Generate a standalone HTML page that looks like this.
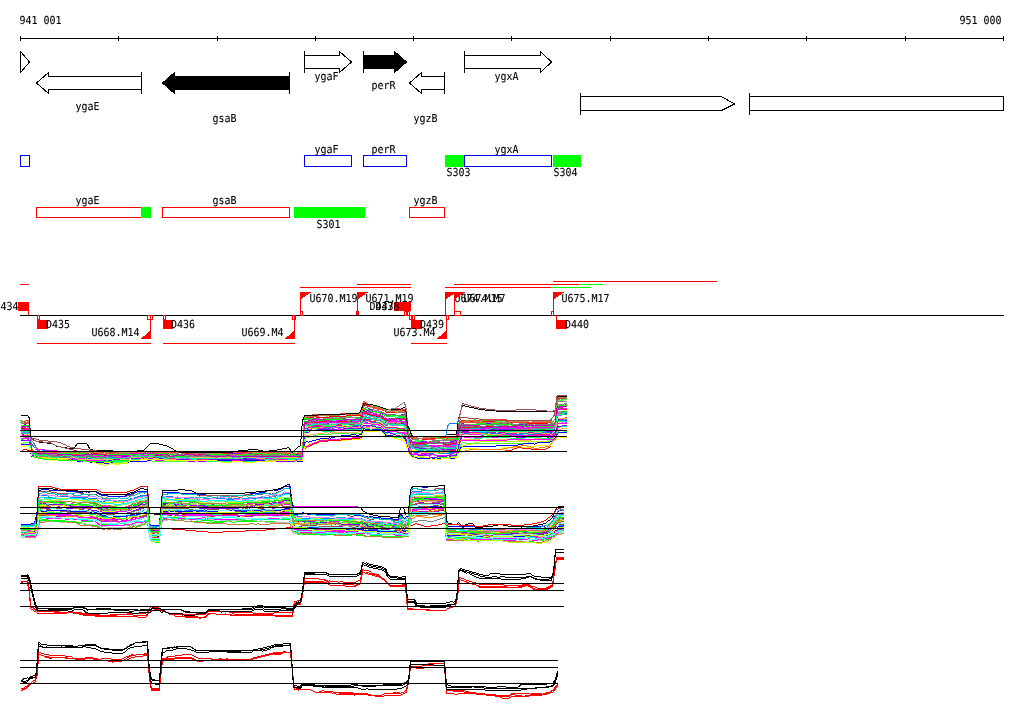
<!DOCTYPE html>
<html lang="en"><head><meta charset="utf-8"><title>Genome region 941 001 - 951 000</title>
<style>html,body{margin:0;padding:0;background:#fff;overflow:hidden}svg{display:block;will-change:transform}text{font-family:"DejaVu Sans Mono","Liberation Mono",monospace;font-size:11px;white-space:pre;stroke:#000;stroke-width:.1px}</style></head><body>
<svg width="1024" height="714" viewBox="0 0 1024 714" shape-rendering="crispEdges" text-rendering="geometricPrecision">
<rect width="1024" height="714" fill="#fff"/>
<g id="axis">
<rect x="20" y="38" width="984" height="1" fill="#000000"/>
<rect x="20" y="36" width="1" height="5" fill="#000000"/>
<rect x="118" y="36" width="1" height="5" fill="#000000"/>
<rect x="217" y="36" width="1" height="5" fill="#000000"/>
<rect x="315" y="36" width="1" height="5" fill="#000000"/>
<rect x="413" y="36" width="1" height="5" fill="#000000"/>
<rect x="511" y="36" width="1" height="5" fill="#000000"/>
<rect x="610" y="36" width="1" height="5" fill="#000000"/>
<rect x="708" y="36" width="1" height="5" fill="#000000"/>
<rect x="806" y="36" width="1" height="5" fill="#000000"/>
<rect x="905" y="36" width="1" height="5" fill="#000000"/>
<rect x="1003" y="36" width="1" height="5" fill="#000000"/>
<text transform="translate(19.40,24.00) scale(0.906,1)" fill="#000000">941 001</text>
<text transform="translate(959.40,24.00) scale(0.906,1)" fill="#000000">951 000</text>
</g>
<g id="genes">
<polygon points="20.5,51.5 29.5,62 20.5,72.5" fill="#fff" stroke="#000000"/>
<polygon points="141.5,76.5 48.5,76.5 48.5,72.5 36.5,83.0 48.5,93.5 48.5,89.5 141.5,89.5" fill="#fff" stroke="#000000"/>
<rect x="141" y="72" width="1" height="22" fill="#000000"/>
<polygon points="289.5,76.5 174.5,76.5 174.5,72.5 162.5,83.0 174.5,93.5 174.5,89.5 289.5,89.5" fill="#000000" stroke="#000000"/>
<rect x="289" y="72" width="1" height="22" fill="#000000"/>
<polygon points="304.5,55.5 339.5,55.5 339.5,51.5 351.5,62.0 339.5,72.5 339.5,68.5 304.5,68.5" fill="#fff" stroke="#000000"/>
<rect x="304" y="51" width="1" height="22" fill="#000000"/>
<polygon points="363.5,55.5 394.5,55.5 394.5,51.5 406.5,62.0 394.5,72.5 394.5,68.5 363.5,68.5" fill="#000000" stroke="#000000"/>
<rect x="363" y="51" width="1" height="22" fill="#000000"/>
<polygon points="444.5,76.5 421.5,76.5 421.5,72.5 409.5,83.0 421.5,93.5 421.5,89.5 444.5,89.5" fill="#fff" stroke="#000000"/>
<rect x="444" y="72" width="1" height="22" fill="#000000"/>
<polygon points="464.5,55.5 540.5,55.5 540.5,51.5 551.5,62.0 540.5,72.5 540.5,68.5 464.5,68.5" fill="#fff" stroke="#000000"/>
<rect x="464" y="51" width="1" height="22" fill="#000000"/>
<polygon points="580.5,96.5 721.5,96.5 734.5,104 721.5,110.5 580.5,110.5" fill="#fff" stroke="#000000"/>
<rect x="580" y="93" width="1" height="22" fill="#000000"/>
<rect x="749.5" y="96.5" width="254" height="14" fill="#fff" stroke="#000000"/>
<rect x="749" y="93" width="1" height="22" fill="#000000"/>
<text transform="translate(75.40,110.00) scale(0.906,1)" fill="#000000">ygaE</text>
<text transform="translate(212.40,122.00) scale(0.906,1)" fill="#000000">gsaB</text>
<text transform="translate(314.40,80.00) scale(0.906,1)" fill="#000000">ygaF</text>
<text transform="translate(371.40,89.00) scale(0.906,1)" fill="#000000">perR</text>
<text transform="translate(413.40,122.00) scale(0.906,1)" fill="#000000">ygzB</text>
<text transform="translate(494.40,80.00) scale(0.906,1)" fill="#000000">ygxA</text>
</g>
<g id="boxes">
<rect x="20.5" y="155.5" width="9" height="11" fill="none" stroke="#0000ff"/>
<rect x="304.5" y="155.5" width="47" height="11" fill="none" stroke="#0000ff"/>
<rect x="363.5" y="155.5" width="43" height="11" fill="none" stroke="#0000ff"/>
<rect x="445" y="155" width="19" height="12" fill="#00ff00"/>
<rect x="464.5" y="155.5" width="87" height="11" fill="none" stroke="#0000ff"/>
<rect x="553" y="155" width="28" height="12" fill="#00ff00"/>
<text transform="translate(314.40,153.00) scale(0.906,1)" fill="#000000">ygaF</text>
<text transform="translate(371.40,153.00) scale(0.906,1)" fill="#000000">perR</text>
<text transform="translate(494.40,153.00) scale(0.906,1)" fill="#000000">ygxA</text>
<text transform="translate(446.40,176.00) scale(0.906,1)" fill="#000000">S303</text>
<text transform="translate(553.40,176.00) scale(0.906,1)" fill="#000000">S304</text>
<rect x="36.5" y="207.5" width="105" height="10" fill="none" stroke="#ff0000"/>
<rect x="141" y="207" width="10" height="11" fill="#00ff00"/>
<rect x="162.5" y="207.5" width="127" height="10" fill="none" stroke="#ff0000"/>
<rect x="294" y="207" width="71" height="11" fill="#00ff00"/>
<rect x="409.5" y="207.5" width="35" height="10" fill="none" stroke="#ff0000"/>
<text transform="translate(75.40,204.00) scale(0.906,1)" fill="#000000">ygaE</text>
<text transform="translate(212.40,204.00) scale(0.906,1)" fill="#000000">gsaB</text>
<text transform="translate(413.40,204.00) scale(0.906,1)" fill="#000000">ygzB</text>
<text transform="translate(316.40,228.00) scale(0.906,1)" fill="#000000">S301</text>
</g>
<g id="transcripts">
<rect x="20" y="315" width="984" height="1" fill="#000000"/>
<rect x="20" y="284" width="9" height="1" fill="#ff0000"/>
<rect x="300" y="287" width="111" height="1" fill="#ff0000"/>
<rect x="357" y="284" width="54" height="1" fill="#ff0000"/>
<rect x="445" y="287" width="106" height="1" fill="#ff0000"/>
<rect x="551" y="287" width="40" height="1" fill="#00ff00"/>
<rect x="454" y="284" width="125" height="1" fill="#ff0000"/>
<rect x="579" y="284" width="25" height="1" fill="#00ff00"/>
<rect x="553" y="281" width="164" height="1" fill="#ff0000"/>
<rect x="37" y="343" width="114" height="1" fill="#ff0000"/>
<rect x="163" y="343" width="132" height="1" fill="#ff0000"/>
<rect x="411" y="343" width="36" height="1" fill="#ff0000"/>
<rect x="18" y="302" width="11" height="9" fill="#ff0000"/>
<rect x="28" y="311" width="1" height="4" fill="#ff0000"/>
<text transform="translate(-5.60,310.00) scale(0.906,1)" fill="#000000">D434</text>
<polygon points="300,292 311.5,292 300,299.5" fill="#ff0000"/>
<rect x="300" y="292" width="1" height="23" fill="#ff0000"/>
<rect x="300.5" y="311.5" width="2" height="4" fill="none" stroke="#ff0000"/>
<text transform="translate(309.40,302.00) scale(0.906,1)" fill="#000000">U670.M19</text>
<polygon points="357,292 368.5,292 357,299.5" fill="#ff0000"/>
<rect x="357" y="292" width="1" height="23" fill="#ff0000"/>
<rect x="356" y="311" width="3" height="4" fill="#ff0000"/>
<text transform="translate(365.40,302.00) scale(0.906,1)" fill="#000000">U671.M19</text>
<rect x="394" y="302" width="17" height="9" fill="#ff0000"/>
<text transform="translate(369.40,310.00) scale(0.906,1)" fill="#000000">D437</text>
<text transform="translate(375.40,310.00) scale(0.906,1)" fill="#000000">D438</text>
<rect x="404.5" y="311.5" width="2" height="4" fill="none" stroke="#ff0000"/>
<rect x="407.5" y="311.5" width="2" height="4" fill="none" stroke="#ff0000"/>
<text transform="translate(454.40,302.00) scale(0.906,1)" fill="#000000">U674.M15</text>
<polygon points="445,292 456.5,292 445,299.5" fill="#ff0000"/>
<rect x="445" y="292" width="1" height="23" fill="#ff0000"/>
<polygon points="454,292 465.5,292 454,299.5" fill="#ff0000"/>
<rect x="454" y="292" width="1" height="23" fill="#ff0000"/>
<text transform="translate(463.40,302.00) scale(0.906,1)" fill="#000000">U674.M7</text>
<rect x="454.5" y="311.5" width="6" height="4" fill="none" stroke="#ff0000"/>
<polygon points="553,292 564.5,292 553,299.5" fill="#ff0000"/>
<rect x="553" y="292" width="1" height="23" fill="#ff0000"/>
<rect x="551.5" y="311.5" width="2" height="4" fill="none" stroke="#ff0000"/>
<text transform="translate(561.40,302.00) scale(0.906,1)" fill="#000000">U675.M17</text>
<rect x="37.5" y="315.5" width="2" height="4" fill="none" stroke="#ff0000"/>
<rect x="37" y="320" width="11" height="9" fill="#ff0000"/>
<text transform="translate(45.90,328.00) scale(0.906,1)" fill="#000000">D435</text>
<polygon points="151,330 151,339 140.5,339" fill="#ff0000"/>
<rect x="150" y="315" width="1" height="24" fill="#ff0000"/>
<rect x="147.5" y="315.5" width="5" height="4" fill="none" stroke="#ff0000"/>
<text transform="translate(91.40,336.00) scale(0.906,1)" fill="#000000">U668.M14</text>
<rect x="163.5" y="315.5" width="2" height="4" fill="none" stroke="#ff0000"/>
<rect x="163" y="320" width="10" height="9" fill="#ff0000"/>
<text transform="translate(170.90,328.00) scale(0.906,1)" fill="#000000">D436</text>
<polygon points="295,330 295,339 284.5,339" fill="#ff0000"/>
<rect x="294" y="315" width="1" height="24" fill="#ff0000"/>
<rect x="292.5" y="315.5" width="3" height="4" fill="none" stroke="#ff0000"/>
<text transform="translate(241.40,336.00) scale(0.906,1)" fill="#000000">U669.M4</text>
<rect x="409.5" y="315.5" width="2" height="4" fill="none" stroke="#ff0000"/>
<rect x="412.5" y="315.5" width="2" height="4" fill="none" stroke="#ff0000"/>
<rect x="411" y="320" width="11" height="9" fill="#ff0000"/>
<text transform="translate(419.90,328.00) scale(0.906,1)" fill="#000000">D439</text>
<polygon points="447,330 447,339 436.5,339" fill="#ff0000"/>
<rect x="446" y="315" width="1" height="24" fill="#ff0000"/>
<rect x="446.5" y="315.5" width="2" height="4" fill="none" stroke="#ff0000"/>
<text transform="translate(393.40,336.00) scale(0.906,1)" fill="#000000">U673.M4</text>
<rect x="556" y="315" width="1" height="6" fill="#ff0000"/>
<rect x="556" y="320" width="11" height="9" fill="#ff0000"/>
<text transform="translate(564.90,328.00) scale(0.906,1)" fill="#000000">D440</text>
</g>
<g id="plot1" fill="none" stroke-width="1">
<path d="M20.5 420.5l1 1l1 1h7l1 14l1 14h1l1 1l1 1h10l1 1h13l1 -1h12l1 1h8l1 1h6l1 -1h1l1 1h18l1 -1h1l1 -1h8l1 -1h18l1 1h14l1 1h4l1 1h25l1 -1h9l1 1h13l1 -1h4l1 -1h8l1 1h1l1 1h10l1 -1h8l1 -1h7l1 1l1 1h3l1 -1h1l1 -1h11l1 -1h13l1 1h1l1 1h5l1 -1l1 1h7l1 -18l1 -19h9l1 -1h10l1 -1l1 1h13l1 1h10l1 -1h1l1 -1h7l1 -4l1 -4l1 -4l1 1h1l1 2h1l1 1l1 -1h1l1 1l1 1l1 -1h4l1 1h2l1 1h2l1 1h4l1 1h7l1 1h5l1 -1h1l1 1l1 2l1 10l1 10l1 2l1 1l1 1l1 1h21l1 -1h4l1 -1h5l1 1h3l1 -1h7l1 -6l1 -7l1 -1h1l1 -2h12l1 -1l1 1h11l1 1h16l1 -1h34l1 1h6l1 1h6l1 -2l1 -1l1 -1l1 -17l1 -3h3l1 1h5" stroke="#00ff00"/>
<path d="M20.5 435.5h4l1 -1h4l1 9l1 9l1 1h1l1 1h4l1 2h1l1 1h6l1 -1h4l1 -1h2l1 1l1 1h4l1 1h9l1 -1h7l1 -1h4l1 1h14l1 1h7l1 1h4l1 -1l1 1h5l1 -1h8l1 -1h2l1 1h26l1 1h10l1 -1h2l1 1h15l1 -1h10l1 -1h7l1 1h6l1 -1h14l1 1h1l1 1h5l1 -1h6l1 1h6l1 -1h17l1 -1h18l1 1h10l1 -1h2l1 -15l1 -15l1 -1h6l1 1h3l1 -1h3l1 -1h5l1 1h1l1 -1h2l1 1h10l1 -1h2l1 -1h3l1 1h4l1 -1h6l1 -1l1 -2l1 -2h3l1 1h1l1 1h6l1 1h4l1 1l1 1l1 1l1 1l1 1h8l1 1h8l1 -1h1l1 2l1 3l1 7l1 6l1 2l1 1l1 1l1 1h10l1 1h8l1 1h20l1 -1h3l1 -5l1 -5l1 -3l1 -2l1 -2h9l1 -1h37l1 1h14l1 -1h1l1 1h1l1 -1h10l1 1h13l1 -1l1 -1l1 -1l1 -8l1 -4h9" stroke="#c0ff00"/>
<path d="M20.5 429.5h1l1 -1h2l1 1h4l1 12l1 11h1l1 1l1 1h7l1 1h15l1 1h2l1 -1h10l1 1h5l1 -1h20l1 1h6l1 1h2l1 -1l1 -1h19l1 -1h26l1 1l1 1h2l1 -1h10l1 1h23l1 1h32l1 -1h7l1 1h4l1 -1h2l1 -1h5l1 1h2l1 1h12l1 -1h1l1 1l1 -1h1l1 -1h4l1 1h13l1 1h11l1 -17l1 -16h5l1 -1h8l1 -1h5l1 -1h10l1 -1h9l1 1h7l1 -1h6l1 -2l1 -3l1 -3l1 1l1 1h3l1 1h2l1 1h1l1 1h4l1 1h2l1 1l1 1l1 1h1l1 1h6l1 -1h5l1 -1h2l1 1h2l1 1l1 2l1 8l1 7l1 2l1 1l1 1l1 1h14l1 1h24l1 -1l1 1h3l1 -5l1 -6l1 -2l1 -2l1 -3l1 1h4l1 -1h21l1 1h16l1 1h7l1 -1h1l1 1h36l1 -1l1 -1l1 -1l1 -11l1 -4h9" stroke="#00c000"/>
<path d="M20.5 426.5h6l1 1h1l1 1l1 12l1 12l1 1h1l1 1h4l1 1h20l1 1h21l1 -1h2l1 1h1l1 -1h13l1 -1l1 1h3l1 -1h11l1 1h5l1 -1h3l1 -1h19l1 1h42l1 1h2l1 -1h7l1 1h4l1 1h18l1 -1h1l1 -1h16l1 1h6l1 1h30l1 -1h19l1 -17l1 -17h16l1 -1h39l1 -3l1 -4l1 -3l1 1h3l1 1h1l1 -1l1 1h2l1 -1l1 1h3l1 1l1 1l1 -1l1 1h1l1 1h1l1 1h8l1 1h7l1 -1h1l1 2l1 1l1 9l1 8l1 2l1 1l1 1l1 1h10l1 1h29l1 -1h3l1 -5l1 -6l1 -3l1 -1l1 -1h1l1 -1h21l1 1l1 1h1l1 -1h5l1 -1h1l1 1h11l1 1h3l1 -1l1 2h37l1 -1h1l1 -1l1 -1l1 -1l1 -14l1 -3h6l1 -1h2" stroke="#00ff80"/>
<path d="M20.5 428.5h9l1 12l1 11l1 1l1 1h1l1 1h8l1 -1h5l1 1h21l1 1h1l1 1h24l1 -1h2l1 1h50l1 -1l1 1h8l1 -1h6l1 1h28l1 -1h16l1 -1h6l1 1l1 -1h9l1 1h2l1 -1h4l1 1l1 -1h1l1 1h2l1 1h21l1 -1h1l1 1h30l1 -17l1 -16h1l1 -1h24l1 -1h4l1 -1h6l1 -1l1 1l1 -1h13l1 1h1l1 -2l1 -3l1 -3l1 1h3l1 1h3l1 1l1 -1h1l1 1h1l1 1h3l1 1l1 1h1l1 1l1 1h12l1 -1h2l1 1l1 -1h1l1 -1l1 2l1 2l1 9l1 8l1 1l1 1l1 1l1 1h5l1 1h5l1 1h18l1 -1h13l1 -5l1 -5l1 -3l1 -2l1 -1h2l1 -1h9l1 -1h9l1 1h13l1 1h33l1 -1h3l1 1h9l1 -1h2l1 -1h3l1 -1l1 -1l1 -1l1 -12l1 -4h5l1 1h3" stroke="#ff00ff"/>
<path d="M20.5 422.5h7l1 1h1l1 13l1 14l1 -1l1 1l1 1h3l1 1h2l1 1h1l1 -1h6l1 1h1l1 -1h5l1 1h1l1 -1h21l1 1h8l1 1h71l1 -1l1 -1h4l1 1h3l1 1h9l1 1h2l1 -1h4l1 -1h1l1 1h73l1 -1h4l1 1h21l1 -1h8l1 -18l1 -19h14l1 1h6l1 -1h1l1 1h9l1 -1h13l1 -1h4l1 -1h3l1 -3l1 -4l1 -4l1 1h2l1 1l1 1h1l1 1h2l1 1h6l1 1h2l1 1h2l1 1h13l1 -1h4l1 2l1 1l1 10l1 11l1 1l1 1l1 1l1 2h2l1 1h8l1 -1h9l1 -1h22l1 -7l1 -6l1 -2l1 -1l1 -2l1 1h5l1 1h1l1 -1h8l1 1l1 -1h3l1 1h2l1 -1h6l1 1h1l1 -1h22l1 1h1l1 -1h2l1 1h7l1 -1h20l1 -1l1 -1l1 -1l1 -16l1 -2h5l1 -1h3" stroke="#40ff40"/>
<path d="M20.5 431.5l1 -1h3l1 1h3l1 1l1 10l1 10h1l1 1h4l1 1h14l1 1h17l1 1h17l1 1l1 -1h37l1 -1h6l1 1h1l1 1l1 -1h4l1 -1l1 1h3l1 -1h6l1 1h5l1 1h2l1 1h9l1 -1h2l1 -1h7l1 1h3l1 1h1l1 -1h7l1 -1h1l1 1h18l1 1h31l1 -1h1l1 -1h26l1 1h12l1 -1h8l1 -16l1 -16h1l1 -1h13l1 -1h2l1 1h15l1 1h2l1 -1h1l1 -1h12l1 -1h3l1 -1l1 -3l1 -2h4l1 1h4l1 1h3l1 1h1l1 1l1 -1l1 1h1l1 1l1 1l1 1l1 1h4l1 1h5l1 -1h1l1 1h5l1 2l1 2l1 7l1 7l1 1l1 2l1 1l1 1h5l1 1l1 -1h5l1 1h4l1 -1h1l1 1l1 -1h9l1 1l1 1h4l1 -1l1 -1l1 1h5l1 -6l1 -5l1 -3l1 -2l1 -2h10l1 1h22l1 -1h2l1 1h11l1 -1l1 1h6l1 -1h19l1 1h7l1 -1h1l1 -1h3l1 1l1 -1l1 -1l1 -1l1 -10l1 -4h9" stroke="#00ffff"/>
<path d="M20.5 422.5l1 1h8l1 14l1 14h1l1 1l1 1l1 1h22l1 1h10l1 -1h13l1 -1h5l1 -1h6l1 1h5l1 -1h45l1 1h18l1 1h2l1 -1h5l1 1h17l1 -1h23l1 1h2l1 -1h3l1 -1h18l1 1h12l1 -1h17l1 1h9l1 -1h8l1 1h5l1 1h2l1 -18l1 -18h15l1 -1h12l1 -2h2l1 1h2l1 1h21l1 -4l1 -3l1 -4h1l1 1h2l1 1h1l1 1h3l1 1h3l1 1h2l1 1h2l1 1h1l1 1h9l1 -1l1 -1h7l1 2l1 1l1 10l1 9l1 1l1 2l1 1l1 1h6l1 -1h2l1 1h4l1 -1h1l1 1h2l1 1h21l1 -1h2l1 -6l1 -6l1 -2l1 -1l1 -2h14l1 -1h3l1 1h1l1 1h3l1 -1h5l1 -1h3l1 1l1 1h8l1 -1l1 1h5l1 -1h6l1 1l1 -1h1l1 1l1 1h9l1 -1h2l1 1h12l1 -1l1 1h1l1 -1l1 -1l1 -1l1 -16l1 -3l1 -1h8" stroke="#808080"/>
<path d="M20.5 425.5h1l1 1l1 -1l1 -1h1l1 1h1l1 1h1l1 12l1 12l1 1l1 1l1 1h8l1 1h38l1 1h12l1 -1h22l1 1h13l1 -1h8l1 1h29l1 1h7l1 -1h1l1 1h24l1 -1l1 -1h14l1 -1h3l1 1h2l1 -1h45l1 1h2l1 -1l1 1h3l1 -1h8l1 1h10l1 -17l1 -18h9l1 1h10l1 -1h35l1 -3l1 -5l1 -3h2l1 1h1l1 -1l1 1h2l1 2h3l1 1h3l1 1h3l1 1h2l1 1h5l1 -1l1 1h6l1 -1h3l1 2l1 3l1 9l1 8l1 2l1 1l1 2l1 1h8l1 -1h5l1 1h5l1 1h13l1 -1h2l1 -1h3l1 -1h2l1 -6l1 -6l1 -2l1 -1l1 -2h2l1 1h12l1 -1h14l1 1h5l1 -1h9l1 1h2l1 1h5l1 -1h12l1 1h4l1 1h17l1 -1l1 -1l1 -1l1 -15l1 -3h7l1 -1h1" stroke="#8000ff"/>
<path d="M20.5 440.5h9l1 7l1 7h1l1 1h4l1 1h8l1 1h19l1 2h5l1 -1h6l1 1h5l1 1h1l1 1h32l1 -1h7l1 -1l1 -1l1 1l1 1h3l1 -1h14l1 -1h6l1 1l1 1l1 1h5l1 -1h1l1 1h64l1 -1h5l1 1h16l1 -1h25l1 1h8l1 -1l1 1l1 -1h1l1 1h7l1 -13l1 -13h5l1 -1h5l1 -1h7l1 -1h2l1 1h1l1 -1h28l1 -1h3l1 -2l1 -2h9l1 1h3l1 1h3l1 1l1 1l1 1l1 1l1 2h4l1 -1l1 1h2l1 1h4l1 -1h2l1 -1l1 1h1l1 2l1 4l1 4l1 5l1 3l1 1l1 1l1 1h5l1 1h32l1 -1h3l1 -1h1l1 -4l1 -3l1 -4l1 -3l1 -2h18l1 1h5l1 -1h31l1 1h13l1 -1h1l1 -1h18l1 -1l1 -1l1 -1l1 -4l1 -3l1 1h2l1 -1h5" stroke="#ffb060"/>
<path d="M20.5 433.5h9l1 10l1 9h1l1 2h1l1 1h8l1 1h2l1 -1h3l1 1h4l1 1h13l1 1h14l1 -1h8l1 1h2l1 -1l1 1h16l1 -1h1l1 1h21l1 -1h1l1 1h4l1 -1h4l1 -1h11l1 1h11l1 1l1 1h11l1 -1h59l1 -1h12l1 -1l1 1h1l1 1h36l1 -1l1 1l1 -15l1 -16h4l1 -1l1 1l1 -1l1 -1h5l1 -1h10l1 -1h3l1 1h3l1 -1h6l1 1h16l1 -2l1 -2l1 -2h5l1 1h3l1 -1h1l1 1l1 1h5l1 1l1 1l1 1l1 1h11l1 1h7l1 2l1 2l1 7l1 7l1 1l1 1l1 1l1 2h2l1 1h2l1 1h5l1 -1h1l1 1h30l1 -5l1 -6l1 -3l1 -2l1 -2h24l1 -1h5l1 -1h4l1 1h2l1 1h30l1 -1h2l1 1h18l1 -1l1 -1l1 -1l1 -9l1 -4l1 -1h3l1 -1h4" stroke="#00c0c0"/>
<path d="M20.5 436.5l1 -1h8l1 9l1 9h1l1 1h3l1 1h11l1 1h6l1 1l1 -1h14l1 1h9l1 1l1 -1l1 1h5l1 1h7l1 1l1 -1h2l1 1h4l1 -1h19l1 -1l1 -1h4l1 1h5l1 -1h31l1 2h12l1 -1h21l1 1h7l1 1h25l1 -1h18l1 -1h4l1 1h27l1 -1h9l1 1l1 -14l1 -15h2l1 -2h8l1 1l1 -1h5l1 -1h8l1 -1h4l1 1h8l1 -1h2l1 -1h11l1 -1l1 -2l1 -2l1 1h7l1 2h9l1 1l1 1l1 2l1 1h10l1 1l1 1h3l1 -1h3l1 2l1 4l1 6l1 6l1 1l1 1l1 1l1 2h2l1 -1h17l1 1h2l1 -1h3l1 1h7l1 -1h8l1 -5l1 -4l1 -4l1 -2l1 -2l1 -1h12l1 1h11l1 1h18l1 -1l1 1h8l1 -1h8l1 1h6l1 -1h4l1 -1h3l1 1h1l1 -1h9l1 -1l1 -1l1 -1l1 -7l1 -3l1 -1h1l1 1h1l1 1h4" stroke="#00ffff"/>
<path d="M20.5 421.5h3l1 1h1l1 1l1 -1h2l1 14l1 13l1 1l1 1l1 1h6l1 1h4l1 1l1 -1h3l1 1h39l1 -1h11l1 1h30l1 -1l1 -2h13l1 1h4l1 -1l1 1h25l1 1h11l1 1h30l1 -1h5l1 1h2l1 -1l1 -1h36l1 1h6l1 -1h7l1 -1h16l1 -18l1 -18h2l1 1h1l1 1h4l1 -1h1l1 1h12l1 -1h16l1 -1h4l1 -1l1 1h8l1 -4l1 -4l1 -4l1 2h2l1 1h4l1 1h3l1 1h2l1 1h2l1 1h2l1 1l1 1h11l1 -1h1l1 -1l1 -1l1 1h2l1 2l1 1l1 10l1 10l1 1h1l1 2l1 2h9l1 1h7l1 -1h8l1 -1h17l1 -7l1 -6l1 -1l1 -2l1 -1h3l1 1h10l1 1h5l1 -1h11l1 -1h11l1 1h1l1 1h17l1 1h21l1 -1h2l1 -1h1l1 -1l1 -1l1 -1l1 -18l1 -3h9" stroke="#ff0000"/>
<path d="M20.5 436.5h2l1 -1h6l1 9l1 9l1 1h1l1 1h3l1 1h13l1 1l1 1h11l1 -1h7l1 -1h2l1 1h15l1 1l1 -1h36l1 1h4l1 1h13l1 -1h1l1 1h21l1 -1h9l1 1h11l1 -1h2l1 -1h21l1 1h4l1 1h21l1 -1h8l1 -1h11l1 1h6l1 1h3l1 -1h17l1 -1h5l1 -15l1 -15h3l1 1h4l1 -2h1l1 1h2l1 1h12l1 -1h1l1 -1h3l1 -1l1 1h6l1 1h15l1 -1l1 -2l1 -2h4l1 1h8l1 1h3l1 1l1 1l1 1l1 1l1 1h5l1 1h2l1 -1h2l1 -1h7l1 3l1 2l1 6l1 6l1 1l1 2l1 2l1 1h15l1 2h5l1 -1h9l1 1l1 -1h1l1 1h3l1 -1h2l1 -1l1 1l1 -1l1 -5l1 -4l1 -4l1 -2l1 -3h7l1 1l1 -1h9l1 1l1 -1h6l1 1h34l1 -1h2l1 -1l1 1h19l1 1h5l1 -1l1 -1l1 -2l1 -7l1 -4h3l1 -1h5" stroke="#0080ff"/>
<path d="M20.5 430.5h5l1 -1h1l1 1h1l1 11l1 11l1 1h1l1 1l1 1h4l1 1h13l1 -1h7l1 2h3l1 -1h10l1 -1l1 1h18l1 1h3l1 -1h27l1 1h1l1 -1h2l1 1h8l1 -1h7l1 -1l1 1h3l1 1h1l1 -1h5l1 -1h57l1 1h2l1 -1h13l1 1h5l1 -1h18l1 1h2l1 1l1 -1h3l1 -1h2l1 1h21l1 1h5l1 -16l1 -17h14l1 -1h16l1 -1h5l1 1h2l1 -1h5l1 -1h3l1 -1h4l1 1l1 -2l1 -2l1 -3h1l1 -1l1 1h3l1 1h3l1 1h1l1 1h1l1 1h2l1 1l1 1l1 1h1l1 1h3l1 1h6l1 -1h6l1 -1h1l1 2l1 2l1 7l1 8l1 1l1 1l1 2l1 1h2l1 1h10l1 1h2l1 -1h7l1 1h14l1 -1h1l1 1h2l1 -6l1 -5l1 -3l1 -2l1 -2h2l1 -1l1 1h10l1 -1h2l1 1h2l1 -1h9l1 1h2l1 1h6l1 -1h11l1 1h34l1 -1h3l1 -1l1 -1l1 -1l1 -11l1 -4h3l1 1h5" stroke="#c0c0c0"/>
<path d="M20.5 430.5h9l1 11l1 11l1 1h1l1 1h5l1 1h10l1 1h9l1 -1h1l1 1h11l1 -1h14l1 1h20l1 1h1l1 -1h2l1 -1h6l1 1h11l1 1h1l1 -1h6l1 -1h4l1 -1l1 1h1l1 1h3l1 1h2l1 -1h9l1 1l1 -1l1 -1h11l1 1h4l1 -1h1l1 1h2l1 1h46l1 -1h4l1 1h6l1 -1l1 1h2l1 -1h5l1 -1h16l1 1h12l1 1h10l1 -16l1 -17l1 -1h12l1 -1h13l1 -1h3l1 1h4l1 -1h10l1 -1h8l1 -2l1 -2l1 -3h3l1 1h3l1 2h4l1 1h4l1 1l1 1h1l1 1l1 1h8l1 1h2l1 -1h7l1 2l1 2l1 7l1 8l1 1l1 1l1 3l1 1h2l1 -1h13l1 1h9l1 -1h17l1 -5l1 -5l1 -3l1 -2l1 -2h29l1 -1h2l1 1h2l1 1h12l1 -1h4l1 1h25l1 1h6l1 -1h4l1 -1l1 -1l1 -1l1 -10l1 -4h9" stroke="#00c0c0"/>
<path d="M20.5 443.5h2l1 -1h6l1 6l1 6l1 1h3l1 1h1l1 1h2l1 1h8l1 1h10l1 1h19l1 1h8l1 -1l1 1h2l1 -1l1 1h1l1 1l1 -1l1 1h23l1 -1h3l1 1l1 -1h1l1 -1h4l1 -1h13l1 1h2l1 1h33l1 -1h16l1 1h1l1 -1h3l1 1h66l1 -1h1l1 -1h24l1 -10l1 -11h1l1 -1h2l1 -1h3l1 -1h4l1 -1h12l1 -1h17l1 1h1l1 -1h10l1 -2l1 -3h6l1 1h4l1 -1h5l1 1l1 1l1 2l1 2l1 1h5l1 1l1 1h8l1 1h3l1 2l1 3l1 4l1 5l1 1l1 1l1 2l1 1h19l1 1h1l1 -1h15l1 -1h6l1 -3l1 -3l1 -3l1 -2l1 -2l1 -1h2l1 1h62l1 -1l1 -1h3l1 1l1 -1h15l1 -1h2l1 -1l1 -1l1 -1l1 -3l1 -3h1l1 1h4l1 -1h2" stroke="#40ff40"/>
<path d="M20.5 436.5h5l1 1h1l1 1h1l1 8l1 9h1l1 1h3l1 1h10l1 1h15l1 -1h6l1 1h2l1 1h7l1 -1l1 -1l1 1h1l1 -1h9l1 1h14l1 1l1 1h14l1 -1l1 -1l1 -1h40l1 1h19l1 1h3l1 -1h6l1 1h16l1 1h4l1 -1h11l1 -1h29l1 1h7l1 -1h7l1 1l1 1h3l1 -1h10l1 1l1 -1h3l1 -1l1 -15l1 -15h4l1 -1h9l1 -1h15l1 1l1 -1h14l1 -1h10l1 -1l1 -3h6l1 1h9l1 1l1 1l1 2l1 1l1 1l1 1h19l1 3l1 2l1 6l1 6l1 1l1 1l1 2l1 1h18l1 1h6l1 1h8l1 -1h4l1 -1h4l1 -5l1 -5l1 -3l1 -3l1 -2l1 1l1 -1h20l1 1h2l1 1h45l1 -1h10l1 -1h6l1 1h1l1 -1l1 -1l1 -2l1 -6l1 -3h3l1 -1h5" stroke="#00ff00"/>
<path d="M20.5 432.5h9l1 10l1 10h1l1 1h2l1 1h12l1 1h26l1 1h1l1 2h6l1 -1h11l1 -1h17l1 1h2l1 -1h11l1 -1h7l1 1h5l1 -1h11l1 1h6l1 1h6l1 1h2l1 -1h3l1 1h13l1 -1h54l1 1h14l1 -1l1 1h18l1 -1h1l1 1h15l1 -1h3l1 -17l1 -16h11l1 -1h6l1 1h21l1 -1h15l1 -1l1 -3l1 -2l1 -1l1 1h2l1 1h4l1 1l1 1h5l1 1h1l1 1l1 1l1 1l1 1h2l1 -1l1 -1h6l1 1h2l1 1h3l1 -1h1l1 2l1 2l1 7l1 7l1 1l1 1l1 2l1 1h10l1 1h6l1 1l1 -1h4l1 1h5l1 1h4l1 -1h6l1 -1l1 -1h1l1 -5l1 -5l1 -4l1 -2l1 -2h34l1 1h30l1 1h19l1 -1h5l1 -1l1 -1l1 -1l1 -10l1 -3h2l1 -1h6" stroke="#808080"/>
<path d="M20.5 432.5h2l1 -1h6l1 10l1 11h1l1 1h3l1 1h12l1 1h24l1 1h6l1 1h3l1 1h29l1 -1l1 -1h11l1 -1h2l1 1h1l1 1h7l1 -1h3l1 -1h12l1 1h11l1 1h22l1 1h25l1 -1h13l1 1h12l1 -1h1l1 -1h33l1 1l1 1h12l1 -1h2l1 -1h2l1 -16l1 -16h7l1 -1h16l1 1h6l1 -1h3l1 1h20l1 -2l1 -2l1 -3h1l1 1h4l1 1h10l1 1l1 1h1l1 1h1l1 1h18l1 3l1 2l1 7l1 7l1 1l1 1l1 1l1 2h6l1 1h6l1 1l1 -1h4l1 1h12l1 -1l1 1h10l1 -6l1 -5l1 -3l1 -2l1 -2h7l1 -1h4l1 -1h27l1 1l1 -1h11l1 1h9l1 1h27l1 -1l1 -1l1 -1l1 -9l1 -4h1l1 -1l1 -1h6" stroke="#8000ff"/>
<path d="M20.5 435.5h1l1 -1h1l1 1h5l1 9l1 9l1 1h1l1 1h3l1 1h5l1 -1h7l1 1l1 1l1 1l1 -1h2l1 1h19l1 1h5l1 -1h17l1 -1l1 1h11l1 1h14l1 -1h6l1 -1h5l1 -1l1 1h8l1 1h19l1 1h4l1 -1h7l1 -1h8l1 1h17l1 -1h1l1 1h10l1 1h27l1 -1h8l1 1h3l1 -1h7l1 -1h21l1 1h5l1 -15l1 -15h4l1 -1h1l1 -1h11l1 -1h18l1 1h3l1 1h6l1 -1h5l1 -1h1l1 -1l1 -2l1 -3l1 1h6l1 1h3l1 1l1 1h2l1 1h1l1 1l1 1l1 1l1 1l1 1h3l1 -1l1 1h6l1 1h7l1 2l1 3l1 6l1 6l1 1l1 1l1 2l1 1h18l1 -1h7l1 -1l1 1h1l1 1h4l1 -1h1l1 -1h7l1 -5l1 -5l1 -3l1 -3l1 -2h34l1 1h1l1 -1h22l1 1l1 -1h29l1 1l1 -1l1 -1l1 -1l1 -7l1 -4h6l1 1h2" stroke="#c000c0"/>
<path d="M20.5 439.5h3l1 1h2l1 -1h2l1 8l1 8h2l1 1l1 1h4l1 1h7l1 -1h1l1 1h6l1 1h10l1 -1l1 -1h9l1 1h61l1 1h1l1 -1h31l1 1h6l1 1h10l1 -1h5l1 -1h9l1 1h12l1 1h3l1 -1h16l1 1h7l1 -1h1l1 -1h6l1 1h11l1 -1h1l1 1h6l1 1h4l1 -1h6l1 1h5l1 -1h3l1 -14l1 -14h2l1 -1h8l1 -1h3l1 1h3l1 -1h14l1 -1h1l1 1h3l1 -1h5l1 1h10l1 -2l1 -2h2l1 1h3l1 -1l1 -1h6l1 1h2l1 1l1 1l1 1l1 1l1 1h1l1 1h9l1 1h2l1 1h4l1 3l1 2l1 5l1 6l1 1l1 2l1 1l1 1h11l1 1h6l1 -1h2l1 1h5l1 1h6l1 -1h8l1 -1l1 -6l1 -4l1 -4l1 -3l1 -1h2l1 1h7l1 -1l1 1h15l1 -1h2l1 1h11l1 -1h4l1 -1h43l1 -1l1 -1l1 -1l1 -5l1 -4h4l1 -1l1 1h3" stroke="#ff00ff"/>
<path d="M20.5 431.5h7l1 -1h1l1 11l1 11l1 1h1l1 1h4l1 2h6l1 -1h1l1 -1h8l1 1h19l1 1h14l1 -1h5l1 1h1l1 1l1 -2h6l1 1h12l1 1h9l1 -1h1l1 1h4l1 -1h1l1 1h16l1 -1h7l1 1h4l1 1h33l1 -1h3l1 1h4l1 -1h15l1 -1h2l1 -1h39l1 1h2l1 1h27l1 -16l1 -16l1 -1h2l1 -1h3l1 -1h6l1 1l1 1h17l1 -1h22l1 -2l1 -3l1 -2h3l1 1h3l1 1h5l1 1h3l1 1l1 1h1l1 1l1 1h2l1 -1h4l1 -1l1 1h2l1 1l1 -1h6l1 2l1 2l1 7l1 8l1 1l1 1l1 1l1 2h35l1 1h1l1 1h6l1 -6l1 -5l1 -3l1 -2l1 -2h35l1 -1l1 1h21l1 -1h13l1 1h18l1 -1l1 -1l1 -1l1 -10l1 -4h6l1 -1h2" stroke="#ff60a0"/>
<path d="M20.5 429.5h1l1 -1h3l1 1h3l1 12l1 11l1 1l1 1l1 -1l1 1h14l1 1h2l1 1h15l1 -1h4l1 -1h38l1 1h20l1 1h14l1 -1h7l1 1h1l1 -1h10l1 1h2l1 1h14l1 -1h6l1 1h10l1 -1h16l1 1l1 -1h78l1 -17l1 -16h2l1 -1h11l1 -1h6l1 1h7l1 -1h26l1 -3l1 -3l1 -3l1 1h2l1 1h3l1 1h4l1 1h4l1 1l1 1h1l1 1l1 1h3l1 -1h6l1 -1h8l1 3l1 3l1 8l1 8l1 1l1 2l1 1l1 1h1l1 -1l1 -1h28l1 1l1 1h3l1 -1h1l1 -1h5l1 -6l1 -5l1 -3l1 -2h10l1 -1h11l1 1l1 -1h15l1 1h18l1 -1h10l1 1h4l1 1h5l1 -1h7l1 1h3l1 -1l1 -1l1 -1l1 -12l1 -4h9" stroke="#ff0000"/>
<path d="M20.5 428.5l1 -1h4l1 1h3l1 11l1 12l1 1l1 1h1l1 -1l1 1h17l1 1h3l1 1h2l1 1h16l1 -1h3l1 -1h11l1 1h15l1 -1h29l1 1l1 1h3l1 -1h5l1 1h21l1 -1h41l1 1h3l1 -1h4l1 -1l1 1l1 -1h4l1 1h7l1 1h2l1 -1h7l1 -1h15l1 1l1 -1h18l1 1h15l1 1l1 -17l1 -17h9l1 -1h1l1 -1h15l1 -1h12l1 1h1l1 1h3l1 -2h9l1 -2l1 -3l1 -4l1 1h2l1 1l1 1h1l1 1h4l1 1h4l1 1h1l1 1l1 1h1l1 1h2l1 -1h14l1 -1h1l1 2l1 2l1 8l1 8l1 2l1 1l1 1l1 1h12l1 1h26l1 -1h3l1 1l1 -5l1 -6l1 -2l1 -2l1 -2h4l1 1h1l1 -1h2l1 1h20l1 -1h20l1 -1h8l1 1h1l1 -1h3l1 1h1l1 1h18l1 1h3l1 -1l1 -1l1 -1l1 -13l1 -4h9" stroke="#a05050"/>
<path d="M20.5 435.5h9l1 9l1 9l1 1l1 -1l1 2h4l1 1h1l1 -1h2l1 1h11l1 -1h1l1 1h13l1 1h1l1 -1h11l1 1l1 1h3l1 -1h30l1 1h6l1 -1h26l1 -1h4l1 1h6l1 1h7l1 -1h8l1 1h10l1 1h34l1 -1l1 1h29l1 -1h6l1 -1l1 1h7l1 1h15l1 -1h8l1 -15l1 -16h9l1 -2h21l1 -1h24l1 -1l1 -2l1 -3l1 1h5l1 2h5l1 1h1l1 1h2l1 1h1l1 1l1 1l1 1h12l1 1h4l1 1h1l1 2l1 2l1 7l1 6l1 1l1 2l1 1l1 1h18l1 1h5l1 -1h12l1 -1h6l1 -5l1 -4l1 -3l1 -2l1 -3h3l1 -1l1 1h4l1 -1h4l1 1h1l1 -1h13l1 1h17l1 1l1 -1h5l1 -1h2l1 1h12l1 1h19l1 -1l1 -1l1 -1l1 -8l1 -4l1 -1h6l1 -1h1" stroke="#ff0080"/>
<path d="M20.5 420.5h1l1 1h2l1 1h4l1 14l1 14l1 1l1 1h8l1 -1h4l1 1h7l1 1h5l1 1h8l1 -1h13l1 -1h13l1 1h1l1 -1h5l1 -1h7l1 1h15l1 -1h8l1 1l1 -1l1 1h10l1 1h5l1 -1h4l1 1h5l1 -1h68l1 -1h6l1 1l1 -1h32l1 1h3l1 1h18l1 -1l1 -18l1 -19h6l1 1h7l1 -1h12l1 -1h4l1 1h1l1 -1l1 -1h20l1 -4l1 -4l1 -4h1l1 1h1l1 2h1l1 1l1 1h1l1 1h3l1 1h2l1 1h2l1 1h3l1 1h4l1 -1h3l1 -1l1 -1h3l1 1h4l1 1l1 2l1 10l1 10l1 1l1 1l1 2l1 1h5l1 -1h26l1 1h11l1 -7l1 -6h1l1 -2l1 -1h5l1 -1h15l1 -1h23l1 2h1l1 1h2l1 -1h5l1 -1h33l1 1l1 -1l1 -1l1 -1l1 -18l1 -3h9" stroke="#ff4040"/>
<path d="M20.5 432.5h8l1 1l1 10l1 9l1 1l1 1h3l1 1l1 1h8l1 -1h2l1 1h1l1 1h4l1 -1h1l1 1h26l1 1h15l1 -1h30l1 -1h1l1 -1h18l1 1h7l1 1h9l1 -1h5l1 1h1l1 1h18l1 -1h12l1 -1h14l1 1h40l1 -1h3l1 1h2l1 1h20l1 -1h6l1 -16l1 -16h4l1 -1h2l1 -1h14l1 -1h8l1 1h6l1 1h1l1 -1h3l1 -1h5l1 1l1 1h4l1 -2l1 -3l1 -2l1 -1h1l1 1h4l1 1l1 1h5l1 1h2l1 1h1l1 1l1 1l1 1h4l1 1h14l1 2l1 2l1 7l1 7l1 2l1 1l1 1l1 1h5l1 1h8l1 -1h3l1 -1h4l1 1l1 1h4l1 -1h3l1 -1h8l1 -1h1l1 -5l1 -5l1 -3l1 -2l1 -2h5l1 1h17l1 -1h4l1 1h13l1 1h7l1 -1h19l1 1h13l1 -1h6l1 -1l1 -1l1 -1l1 -10l1 -2h3l1 -1l1 -1h1l1 -1h2" stroke="#8080ff"/>
<path d="M20.5 429.5h7l1 -1h1l1 12l1 11h1l1 1l1 1l1 1h4l1 -1h3l1 1h4l1 1h8l1 -1h2l1 1h1l1 -1h12l1 1h2l1 1h3l1 -1h7l1 1h21l1 1h14l1 -1h13l1 -1h6l1 1h11l1 1h22l1 -1h10l1 -1h3l1 1h10l1 1h5l1 -1h24l1 -1h3l1 1h7l1 -1h49l1 -17l1 -16l1 -1h13l1 1h5l1 -1h3l1 1h22l1 -1h7l1 -1l1 -3l1 -3l1 -2h3l1 1h3l1 1h4l1 1h4l1 1l1 1h1l1 1l1 1h1l1 1l1 1h16l1 2l1 2l1 8l1 8l1 1l1 1l1 2l1 1h26l1 -1h3l1 1h13l1 -6l1 -5l1 -3l1 -2l1 -1h19l1 -1h3l1 1l1 -1h3l1 -1h33l1 1h1l1 -1h26l1 -1l1 -1l1 -1l1 -12l1 -3h6l1 -1h2" stroke="#ff00ff"/>
<path d="M20.5 425.5h6l1 1h2l1 12l1 13l1 1l1 1l1 1h5l1 1h8l1 -1h9l1 -1h5l1 1h3l1 -1h3l1 1h2l1 1h3l1 1h10l1 -1h14l1 -1h4l1 1h4l1 -1h1l1 -1h19l1 1h5l1 -1h11l1 1h7l1 1l1 1h26l1 -1h9l1 -1h27l1 1l1 1h13l1 -1h3l1 1h2l1 -1h10l1 -1h1l1 1h37l1 -17l1 -17h6l1 -1h8l1 -1h2l1 -1h22l1 -1h14l1 -3l1 -2l1 -3h2l1 1h2l1 1h2l1 1l1 1h3l1 1h3l1 1h1l1 1h1l1 1l1 -1h1l1 -1h15l1 1l1 2l1 2l1 8l1 9l1 1l1 1l1 2h3l1 1h12l1 1h11l1 -1h2l1 -1l1 1l1 1h4l1 -1h6l1 -6l1 -5l1 -2l1 -2l1 -1h12l1 -1h3l1 1h7l1 -1h7l1 1h5l1 -1h2l1 1l1 -1h4l1 1h8l1 -1h5l1 1h2l1 -1h3l1 1h18l1 -1h2l1 -2l1 -1l1 -1l1 -13l1 -3h9" stroke="#808080"/>
<path d="M20.5 436.5h4l1 1h1l1 -1l1 1h1l1 9l1 9h2l1 1h1l1 -1h1l1 1h13l1 1h6l1 1h6l1 -1l1 -1h1l1 1h5l1 1h1l1 1h8l1 -1h5l1 1h8l1 -1l1 1h3l1 -1h1l1 -1h6l1 1h14l1 -1h4l1 -1l1 1h15l1 1h3l1 -1h8l1 1h2l1 1h18l1 -1h5l1 1h3l1 -1h5l1 -1h6l1 1h5l1 1h9l1 -1h4l1 1l1 -1h1l1 1h14l1 -1h23l1 1h1l1 -1h9l1 1h1l1 -1h1l1 1h11l1 -1h1l1 -14l1 -15l1 -1h1l1 1h4l1 -2h1l1 1h8l1 -1h1l1 -1l1 -1h4l1 1h3l1 1h14l1 -1h2l1 -1h6l1 1l1 -1l1 -2l1 -2h4l1 -1l1 1l1 1h7l1 1l1 1h1l1 1l1 1l1 1l1 1l1 1h8l1 1h10l1 2l1 3l1 6l1 6l1 1l1 1l1 2l1 1h4l1 -1h15l1 -1l1 1h3l1 1h3l1 1h6l1 -1h7l1 -5l1 -5l1 -3l1 -3l1 -3h5l1 -1l1 1h10l1 -1h10l1 1h20l1 1h7l1 -1h8l1 1h4l1 -1h7l1 -1h8l1 1h3l1 -1l1 -1l1 -7l1 -3l1 -1h6l1 -1h1" stroke="#0080ff"/>
<path d="M20.5 439.5h3l1 1h5l1 6l1 8h2l1 1h3l1 1h4l1 1h7l1 1h20l1 1h5l1 1h6l1 -1l1 1l1 -1h3l1 -1l1 1l1 1h5l1 -1h1l1 1h8l1 1h18l1 -1h2l1 -1h8l1 -1h5l1 1h1l1 -1h15l1 1h19l1 1h1l1 -1h8l1 1h10l1 1h26l1 -1h2l1 -1h2l1 1h4l1 1h13l1 -1h2l1 -1h7l1 1l1 1h10l1 -1h2l1 -1h17l1 -14l1 -14h2l1 -1h7l1 -1h2l1 1h3l1 1h11l1 -1h10l1 -1h16l1 -2l1 -1h1l1 -1h9l1 2h1l1 -1l1 1h2l1 1l1 1l1 1l1 2l1 1h2l1 -1h3l1 1h9l1 2h2l1 2l1 3l1 5l1 5l1 1l1 1l1 2l1 1h1l1 1h2l1 -1h5l1 -1h10l1 1h4l1 1l1 -1h8l1 -1h7l1 -5l1 -4l1 -4l1 -3l1 -1l1 -1h8l1 1h2l1 1h7l1 -1h9l1 -1h5l1 1h11l1 1h13l1 -1h17l1 1h10l1 -1l1 -1l1 -1l1 -4l1 -4h2l1 -1h6" stroke="#00ff80"/>
<path d="M20.5 421.5h4l1 -1h3l1 1l1 13l1 14l1 1l1 1l1 1h9l1 1h22l1 1l1 1h1l1 -1h1l1 1h10l1 -1h2l1 -1h18l1 1h9l1 -1h11l1 -1h1l1 1h10l1 -1h1l1 1h4l1 -1h2l1 1h7l1 1h2l1 -1h10l1 1h6l1 1h1l1 -1h4l1 1h2l1 -1h3l1 -1h3l1 1h1l1 -1h10l1 1h11l1 -1h19l1 1h4l1 -1h41l1 1h11l1 -1h1l1 -18l1 -18l1 1h3l1 -2h2l1 -1h21l1 1h1l1 -1h20l1 -1l1 1h2l1 -3l1 -5l1 -4l1 1l1 1h2l1 1h1l1 1h2l1 2h3l1 1h1l1 -1l1 1h3l1 1h2l1 1h2l1 1l1 -2h9l1 -1h3l1 1l1 2l1 10l1 10l1 1l1 1l1 1l1 2h3l1 1h11l1 1h6l1 -1h6l1 1h3l1 -1h1l1 1h8l1 -7l1 -6l1 -2l1 -1l1 -1h89l1 -1h1l1 -1l1 -1l1 -1l1 -17l1 -2h2l1 -1h6" stroke="#ff4040"/>
<path d="M20.5 438.5h9l1 7l1 8l1 2h2l1 1h14l1 1h5l1 1h3l1 1h22l1 1h22l1 -1h4l1 -1h18l1 -1h13l1 1h3l1 1h6l1 1h23l1 -1h2l1 1h4l1 -1h4l1 1h9l1 -1h7l1 1h4l1 -1l1 1h5l1 -1h7l1 1h29l1 -1h3l1 -1h18l1 1h4l1 1h7l1 -1l1 1h2l1 -1h2l1 -14l1 -15h2l1 -1h4l1 -1h10l1 -1h8l1 1h1l1 -1h3l1 1h1l1 1h2l1 -1h5l1 -1h11l1 -1l1 -2l1 -1h8l1 1h8l1 1l1 1l1 2l1 1l1 1h2l1 1l1 -1h3l1 1h4l1 1h6l1 3l1 2l1 6l1 5l1 2l1 1l1 2l1 1h1l1 -1h3l1 -1h2l1 1h7l1 1h5l1 1h13l1 -1h1l1 -1h2l1 -1h2l1 -4l1 -5l1 -4l1 -2l1 -3h19l1 1h2l1 1h12l1 -1h4l1 -1h8l1 1h3l1 1h9l1 -1h1l1 1h3l1 -1h17l1 1h3l1 -1l1 -2l1 -1l1 -5l1 -4h7l1 -1h1" stroke="#ff00ff"/>
<path d="M20.5 444.5h9l1 6l1 6h3l1 1h4l1 1h4l1 1h20l1 1h10l1 1h12l1 1h13l1 1h6l1 -1h1l1 1h11l1 -1h3l1 -1h17l1 -1h3l1 -1h19l1 1h60l1 1h7l1 -1l1 1h2l1 -1h20l1 1h37l1 -10l1 -9h1l1 -1h1l1 1l1 -1h2l1 -1h3l1 -1h3l1 -1h8l1 -1l1 1l1 -1h3l1 -1h5l1 -1h9l1 -1h4l1 1h2l1 -1h2l1 -3l1 -3h1l1 1h4l1 1h1l1 -1h8l1 1l1 1l1 1l1 1l1 2h7l1 1h9l1 1h1l1 2l1 3l1 4l1 4l1 2l1 1l1 2l1 1h2l1 1h1l1 1h17l1 -1h1l1 1h17l1 -1h1l1 -2l1 -3l1 -2l1 -2l1 -2h34l1 -1h21l1 -1h4l1 -1h10l1 1l1 -1h1l1 -1h12l1 -1h1l1 -1l1 -1l1 -1l1 -1l1 -2l1 -2l1 -1h8" stroke="#0000ff"/>
<path d="M20.5 425.5h4l1 1h4l1 13l1 12l1 1l1 1l1 1h13l1 1h7l1 -1h14l1 1h8l1 -1h2l1 1h28l1 -1h13l1 -1h11l1 1h4l1 -1l1 -1h7l1 1h8l1 1l1 1h6l1 -1h3l1 -1h5l1 1h7l1 1h7l1 -1h2l1 1h60l1 -1h1l1 1h3l1 -1h6l1 -1h1l1 1h14l1 1h3l1 -1l1 1h8l1 -18l1 -18h21l1 -1h4l1 -1h1l1 1h9l1 -1h15l1 1h1l1 -3l1 -4l1 -3h1l1 1h2l1 1h2l1 1h5l1 -1h1l1 1h2l1 1l1 1l1 1h1l1 1h17l1 -1l1 2l1 2l1 10l1 9l1 1l1 1l1 1l1 2h16l1 -1h10l1 1h15l1 -1l1 -6l1 -6l1 -2l1 -2l1 -2l1 1h13l1 -1h2l1 1h21l1 -1h5l1 1h11l1 -1h7l1 1h4l1 1h2l1 -1h2l1 1h9l1 -1h2l1 -1h2l1 -1l1 -1l1 -14l1 -3h6l1 -1h2" stroke="#808080"/>
<path d="M20.5 440.5h9l1 8l1 7h2l1 1h3l1 1l1 1h11l1 1h13l1 -1h5l1 1h1l1 -1h3l1 1h9l1 1l1 -1h1l1 -1l1 1h12l1 1h1l1 -1h1l1 1h3l1 -1h16l1 -1h33l1 1h5l1 1h6l1 -1h10l1 1l1 1h6l1 -1h2l1 1h7l1 -1l1 -1h52l1 1h1l1 1h34l1 -1h5l1 -14l1 -14h4l1 -1l1 -1h6l1 -1h12l1 1h1l1 -1h4l1 1h2l1 -1h3l1 -1h17l1 -2l1 -1h8l1 1h3l1 1h4l1 1l1 1l1 2h1l1 1h4l1 1h2l1 1h2l1 1h3l1 1h4l1 2l1 3l1 5l1 5l1 1l1 2l1 1l1 1h5l1 -1h5l1 -1h2l1 1h1l1 1l1 1h6l1 -1h9l1 -1h1l1 1h1l1 -1h5l1 -4l1 -5l1 -4l1 -2l1 -4h54l1 1h9l1 -1h20l1 1h1l1 1l1 -1h2l1 -1l1 -1l1 -1l1 -4l1 -4h4l1 -1h4" stroke="#8000ff"/>
<path d="M20.5 435.5h1l1 1l1 1h1l1 -1h4l1 9l1 9h2l1 1h3l1 1h5l1 1h8l1 1h9l1 -1h1l1 1h4l1 -1h4l1 1h2l1 1h34l1 -1h6l1 1h9l1 -2h6l1 -1l1 1h2l1 1h1l1 -1l1 1h3l1 -1h4l1 1h5l1 1h15l1 -1h4l1 -1h34l1 1h2l1 -1h13l1 1h8l1 -1h14l1 1h8l1 -1h7l1 1h7l1 -1h19l1 1h1l1 -15l1 -15l1 -1h2l1 1h2l1 -1l1 1h6l1 -1h3l1 -1h1l1 -1h10l1 1h7l1 1h4l1 -1h2l1 1h8l1 -1l1 -2l1 -2h1l1 -1h3l1 1h1l1 1h7l1 1h1l1 1l1 1l1 1l1 1h3l1 1h7l1 1h8l1 2l1 3l1 6l1 6l1 1l1 1l1 2l1 1l1 -1h5l1 1h19l1 1l1 -1h7l1 -1h8l1 -5l1 -5l1 -3l1 -3l1 -2h2l1 1h4l1 -1h3l1 1l1 -1h10l1 1h16l1 -1h2l1 -1h22l1 1h5l1 -1h7l1 1h7l1 1h1l1 -1l1 -1l1 -1l1 -1l1 -7l1 -5h9" stroke="#ffb060"/>
<path d="M20.5 421.5h5l1 1l1 -1h2l1 14l1 13l1 1l1 1l1 2l1 -1h6l1 2l1 -1h9l1 1l1 1h3l1 -1h2l1 -1h36l1 1h5l1 -1h10l1 1h4l1 -1h12l1 -1h5l1 1h9l1 1h5l1 1h15l1 -1h4l1 -1h32l1 1h13l1 1h21l1 -1h3l1 -1h2l1 1h1l1 -1h3l1 1h11l1 1h3l1 -1h7l1 -1h6l1 1h7l1 -1h5l1 -17l1 -18h1l1 -1h6l1 -1h13l1 -1h33l1 -4l1 -4l1 -4h1l1 1h1l1 1h1l1 1h2l1 1h3l1 1h2l1 1h3l1 1l1 1h1l1 1h8l1 1h2l1 -1h6l1 1h1l1 10l1 10l1 1l1 1l1 2l1 1l1 1h9l1 -1h11l1 1h6l1 1h12l1 -1h1l1 -7l1 -6l1 -1l1 -2l1 -1h8l1 -1h2l1 1h5l1 1h30l1 -1h18l1 -1h2l1 1h20l1 -1l1 -1l1 -1l1 -18l1 -3h9" stroke="#c08040"/>
<path d="M20.5 425.5h8l1 1l1 12l1 12l1 1l1 1l1 1h9l1 1h2l1 -1h37l1 1h7l1 1h13l1 -1h25l1 -1h2l1 1h4l1 -1h5l1 1h5l1 -1h14l1 1l1 1l1 -1l1 1l1 1h12l1 -1h2l1 1h15l1 -1h3l1 -1h18l1 1h16l1 -1h9l1 -1h8l1 1h5l1 -1h9l1 1h5l1 1h3l1 -1h6l1 1h2l1 -1h3l1 -18l1 -18h5l1 1l1 -1h1l1 1h6l1 1h3l1 -1h30l1 -1h5l1 -3l1 -4l1 -3h2l1 1h2l1 1h2l1 1h3l1 1h4l1 1l1 1h1l1 1h2l1 1h2l1 -1h7l1 1h6l1 2l1 2l1 9l1 8l1 2l1 1l1 1l1 1h26l1 1h8l1 -1h5l1 -1h2l1 -6l1 -6l1 -2h1l1 -2h9l1 -1h6l1 -1h7l1 1h4l1 -1h8l1 1h10l1 1h1l1 1h8l1 -1h1l1 -1l1 1l1 1h3l1 -1h9l1 1h4l1 -1h2l1 1h4l1 -1l1 -1l1 -1l1 -15l1 -3h8l1 -1" stroke="#00ff00"/>
<path d="M20.5 431.5h9l1 11l1 10l1 2l1 -1l1 1l1 1h3l1 1h17l1 1h8l1 -1h6l1 -1h2l1 1h14l1 1h8l1 1l1 -1h4l1 -1h9l1 -1h16l1 1h8l1 1h3l1 -1h19l1 1h2l1 -1l1 1h16l1 -1h43l1 -1h5l1 1h8l1 -1h3l1 1h13l1 -1h4l1 1h2l1 1h6l1 -1h5l1 -1h1l1 1h10l1 1h4l1 -16l1 -16h1l1 -1l1 1h4l1 -1h25l1 -1h9l1 -1l1 1l1 -1h8l1 1h1l1 -2l1 -3l1 -2h3l1 1h3l1 1h5l1 1h3l1 1l1 1h1l1 1l1 1h9l1 1l1 -1h4l1 -1h3l1 2l1 2l1 7l1 8l1 1l1 1l1 1l1 2h19l1 1h1l1 1h2l1 -1h2l1 1h16l1 -6l1 -5l1 -3l1 -2l1 -2h1l1 -1l1 -1h4l1 1h3l1 1h40l1 -1h15l1 -1h22l1 -1l1 -1h1l1 -10l1 -4h4l1 1h2l1 -1h1" stroke="#808080"/>
<path d="M20.5 446.5h5l1 -1h3l1 5l1 5l1 1h1l1 1h3l1 1h10l1 1h1l1 1h1l1 -1l1 1h1l1 -1l1 -1h12l1 1l1 1h9l1 1l1 -1h3l1 1h7l1 1h1l1 1h7l1 -1h5l1 1h3l1 1h5l1 -1h3l1 -1h3l1 -1h1l1 -1h9l1 -1h23l1 1h52l1 1h4l1 1h9l1 -1h10l1 1h11l1 -1h20l1 -1h18l1 1h1l1 -1h5l1 -7l1 -7h1l1 -1h1l1 -1h1l1 -1h3l1 -1l1 -1h1l1 -1h3l1 -1h11l1 1l1 -1h4l1 1h7l1 -1h14l1 -4l1 -4h13l1 -1h3l1 1l1 1l1 1l1 2l1 1h6l1 1h1l1 1h2l1 1h3l1 1h3l1 2l1 3l1 4l1 4l1 1l1 1l1 2h2l1 -1h9l1 1h5l1 1h1l1 1h8l1 -1h8l1 -1h6l1 -2l1 -2l1 -1l1 -3h1l1 -1h14l1 1h24l1 -2h29l1 -1h3l1 -1h11l1 1l1 -1l1 -1l1 -2h1l1 -1l1 -1h1l1 -2l1 -1l1 -1h1l1 1h6" stroke="#ffff00"/>
<path d="M20.5 432.5h1l1 -1h7l1 11l1 10l1 1l1 1h3l1 2l1 -1h9l1 1h2l1 1h8l1 -1h2l1 -1h8l1 1h4l1 1h7l1 1h2l1 -1h2l1 1h8l1 -1h2l1 1h22l1 -1h4l1 -1h27l1 1l1 -1l1 1h2l1 1h4l1 -1h19l1 1h45l1 -1h2l1 1h4l1 -1h5l1 -1h13l1 1h10l1 -1h2l1 1l1 1h22l1 -1h1l1 -16l1 -16h3l1 1h1l1 -1h1l1 -1h8l1 1h7l1 -1h7l1 -1h3l1 1h7l1 -1h4l1 1h6l1 -2l1 -2l1 -3h2l1 1h4l1 1h9l1 1l1 1h1l1 1l1 1h2l1 1h9l1 1h6l1 2l1 1l1 7l1 7l1 2l1 1l1 1l1 1h1l1 1l1 1h20l1 -1h3l1 -1h3l1 1h11l1 -1l1 -5l1 -5l1 -3l1 -2l1 -2h25l1 1h17l1 -1l1 1h36l1 -1h1l1 -1h7l1 -1l1 -1l1 -1l1 -9l1 -3h5l1 -2h3" stroke="#00ff80"/>
<path d="M20.5 427.5h2l1 -1h6l1 12l1 12l1 1h1l1 1h2l1 1h19l1 1h14l1 1h11l1 -1h19l1 1h24l1 -1l1 -1h24l1 1h3l1 1l1 -1h7l1 1h1l1 1h4l1 -1h8l1 -1h9l1 1h6l1 -1h3l1 1h5l1 1h14l1 -1h4l1 1h71l1 -17l1 -17h2l1 -1l1 -1h3l1 -1h11l1 1h3l1 1h8l1 -1h5l1 -1h17l1 -3l1 -3l1 -3h1l1 1h1l1 -1h1l1 2h3l1 1h1l1 1h1l1 1h3l1 1h1l1 1l1 1h2l1 1h9l1 -1h2l1 1h2l1 -1h1l1 1l1 2l1 9l1 8h1l1 1l1 2l1 1h20l1 1h3l1 -1h4l1 1h3l1 -1h7l1 1h2l1 -6l1 -7l1 -2l1 -2l1 -1h18l1 1h1l1 1h16l1 -1h6l1 1h2l1 -1h9l1 -1l1 1h3l1 -1h28l1 -1l1 -1l1 -1l1 -13l1 -3l1 1l1 -1h7" stroke="#c000c0"/>
<path d="M20.5 415.5h7l1 1l1 2l1 18l1 1l1 1l1 1l1 1h1l1 1h2l1 1h7l1 1h5l1 1h1l1 1l1 1h4l1 1h5l1 1h6l1 -1l1 -1l1 -2l1 -1h9l1 1l1 2l1 2l1 1h2l1 1h19l1 1h23l1 -1h6l1 -1l1 -1l1 -1l1 -1l1 -1l1 -1l1 -1h8l1 1h3l1 1h3l1 1h1l1 1h1l1 1h1l1 1l1 1h1l1 1h2l1 1h53l1 -1h4l1 -1h9l1 -1h9l1 1h4l1 1h5l1 -1h7l1 -1h4l1 -1h4l1 -1h1l1 1l1 2l1 1l1 1l1 -1l1 -1l1 -1l1 -1l1 -1l1 -1h1l1 -1l1 -13l1 -12l1 -2l1 -3h13l1 -1h26l1 -1h13l1 -1l1 -1l1 -3l1 -2l1 -3h2l1 1h6l1 1h3l1 1h2l1 1h2l1 1h2l1 1h14l1 -1h1l1 -1h1l1 -1l1 10l1 9l1 2l1 2l1 3l1 2l1 2h32l1 -1l1 -1h10l1 -8l1 -8l1 -3l1 -3l1 -4l1 -3h2l1 1h3l1 1h4l1 1h3l1 1h6l1 1h10l1 1h57l1 -1h1l1 -12l1 -2h9" stroke="#000000"/>
<path d="M30.5 437.5h1l1 1h3l1 1h2l1 1h8l1 1h8l1 1h3l1 1h1l1 1h2l1 1l1 1h2l1 1h3l1 1h6l1 1h7l1 1h7l1 1h11l1 1h8" stroke="#a05050"/>
<path d="M30.5 438.5h1l1 1l1 1h2l1 1h6l1 1h7l1 1h1l1 1h1l1 1h1l1 1h3l1 1h3l1 1h3l1 1h3l1 1h3l1 1h1l1 1h1" stroke="#a05050"/>
<path d="M29.5 440.5l1 2l1 1l1 1l1 2l1 1h1l1 1h1l1 1h3l1 1h10l1 1h7" stroke="#0080ff"/>
<path d="M30.5 438.5l1 2l1 1l1 1l1 2l1 2l1 2l1 2h2l1 1h2l1 1h2" stroke="#808080"/>
<path d="M34.5 449.5h10l1 1h11l1 1h1l1 1h1" stroke="#ff00ff"/>
<path d="M21.5 450.5h1l1 -1h3l1 1h3" stroke="#ff0000"/>
<path d="M458.5 420.5l1 -4l1 -4l1 -5l1 -4h1l1 1h3l1 1h2l1 1h3l1 1h3l1 1h6l1 1h8l1 1h20l1 -1h19l1 1h10l1 1h5l1 -1h1l1 -1l1 -12l1 -2h9" stroke="#a05050"/>
<path d="M456.5 436.5l1 -5l1 -5l1 -4l1 -5h7l1 1h10l1 1h7l1 1h63l1 -2l1 -1l1 -1l1 -2l1 -6l1 -6l1 -4h9" stroke="#a05050"/>
<path d="M387.5 409.5h3l1 -1h4l1 -1l1 -1h1l1 -1l1 -1h1l1 -1l1 -1h1l1 4l1 4" stroke="#808080"/>
<path d="M460.5 452.5h1l1 -1h2l1 -1h3l1 -1h33l1 -1h4l1 -1h4l1 -1h7l1 -1h5l1 1h3l1 1h2l1 1h4l1 -1h5l1 -1h3l1 -1l1 -1l1 -1l1 -1l1 -1l1 -1l1 -2l1 -1" stroke="#ff8000"/>
<path d="M500.5 451.5h4l1 -1h6l1 -1h1l1 -1h2l1 -1h4l1 1h8l1 1h14l1 -1h1l1 -1h1l1 -1" stroke="#ff0000"/>
<path d="M460.5 446.5h2l1 -1h2l1 -1h4l1 -1h2l1 -1h4l1 -1h67l1 -1h1l1 -1h1l1 -1h1" stroke="#c0ff00"/>
<path d="M460.5 440.5h46l1 -1h45" stroke="#ff00ff"/>
<path d="M31.5 456.5h4l1 1h9l1 1h9l1 1h11l1 1h14l1 1h8l1 1h3l1 1h2l1 1h3l1 1h3l1 -1h1l1 -1h18l1 -3" stroke="#c0ff00"/>
<path d="M31.5 456.5h2l1 1h3l1 1h4l1 1h14l1 1h27l1 1h27l1 -1h14" stroke="#00ff00"/>
<path d="M445.5 437.5l1 -5l1 -6l1 -2l1 -1h7l1 -1l1 -2" stroke="#0080ff"/>
<path d="M304.5 448.5h1l1 -1l1 -1h2l1 -1h1l1 -1h1l1 -1h2l1 -1h1l1 -1h8l1 -1h12l1 -1h10l1 -1h7l1 -1h1" stroke="#ff0000"/>
<path d="M304.5 447.5l1 -1h2l1 -1l1 -1h2l1 -1h1l1 -1h2l1 -1h1l1 -1h8l1 -1h11l1 -1h11l1 -1h7l1 -1h1" stroke="#ff00ff"/>
<rect x="20" y="430" width="547" height="1" fill="#000000"/>
<rect x="20" y="436" width="547" height="1" fill="#000000"/>
<rect x="20" y="451" width="547" height="1" fill="#000000"/>
</g>
<g id="plot2" fill="none" stroke-width="1">
<path d="M20.5 529.5h12l1 1l1 -1l1 -1l1 -3l1 -4l1 -13l1 -4h3l1 1h5l1 -1h2l1 1h10l1 1h1l1 1h9l1 -1h5l1 1h6l1 1h8l1 1h4l1 1h7l1 1h16l1 -1h3l1 -2h3l1 -1l1 -1h1l1 -1l1 1l1 1h2l1 -1h4l1 11l1 10l1 3l1 2h7l1 1l1 -11l1 -9l1 -8h4l1 -1h1l1 -1h1l1 1h8l1 1h6l1 -1h9l1 1h5l1 1h24l1 -1h13l1 1h10l1 -1h1l1 -1h17l1 -1h7l1 -1h2l1 -1h6l1 14l1 4l1 4h4l1 1l1 -1h25l1 -1h8l1 1h3l1 -1h2l1 1l1 1h3l1 1h5l1 -1h4l1 -1h5l1 1h5l1 2h6l1 1h5l1 1h7l1 -1h1l1 -1h6l1 -1l1 -1h1l1 1h1l1 1h1l1 -1h2l1 -10l1 -10l1 -3l1 -2h3l1 1h1l1 1h4l1 -1h5l1 -2h4l1 1l1 1h6l1 -1l1 -1l1 1l1 21l1 10l1 2h18l1 -1l1 1l1 1h4l1 -1h3l1 -1h19l1 1h30l1 -1h8l1 1h4l1 -1h2l1 -1h3l1 -2h1l1 -1l1 -1l1 -1l1 -2l1 -1l1 -1l1 -1l1 -1l1 -1l1 1h3" stroke="#ff00ff"/>
<path d="M20.5 525.5h3l1 -1h9l1 -2l1 -1l1 -5l1 -6l1 -19h12l1 1h5l1 1h17l1 -1h4l1 1h3l1 1h12l1 1l1 1h2l1 1h1l1 1h2l1 -1l1 -1h19l1 -1h3l1 -1h2l1 -1l1 1h1l1 -1h1l1 -1h4l1 1l1 -1h1l1 -1l1 16l1 16l1 1l1 1h8l1 -14l1 -9l1 -9l1 -1h3l1 1h4l1 -1h7l1 1h6l1 1h12l1 1h30l1 1h6l1 1h3l1 -1l1 -1h2l1 -1h6l1 -1h2l1 1h6l1 -1h7l1 1l1 -1h3l1 -1h1l1 -1h2l1 -1h1l1 -1l1 -1h5l1 -1l1 14l1 6l1 6h3l1 1h2l1 -1h1l1 1l1 -1h36l1 1h6l1 1h2l1 1h3l1 -1h3l1 -1h2l1 2h2l1 1h2l1 1h1l1 1h4l1 -1h5l1 1h12l1 1h5l1 -3l1 -3l1 2l1 1l1 1l1 1l1 -1h1l1 -1l1 -1l1 -12l1 -13l1 -2l1 -1h5l1 1h7l1 1h8l1 -2h9l1 23l1 15l1 1l1 1h9l1 1h6l1 -1h12l1 1h11l1 -1h6l1 1h43l1 -1h2l1 -1h2l1 -1h1l1 -2l1 -1l1 -2l1 -1l1 -1l1 -2l1 -1l1 -2l1 -2l1 -1l1 -1h4" stroke="#a05050"/>
<path d="M20.5 529.5h1l1 -1h7l1 1h3l1 -1l1 -1l1 -4l1 -5l1 -14l1 -3h4l1 1h1l1 -1l1 1h17l1 1l1 1h12l1 -1h1l1 -1h9l1 1h5l1 1h2l1 1h1l1 1h9l1 1h13l1 -1h3l1 -1h1l1 -1l1 1l1 -1h2l1 -1h2l1 -2h4l1 1h2l1 12l1 13l1 2l1 1h8l1 -12l1 -8l1 -10h2l1 1l1 1h1l1 1h27l1 1h3l1 1h27l1 -1h7l1 -1h5l1 -1h16l1 -1h2l1 1h6l1 -1h4l1 -1h6l1 -1h1l1 -1h6l1 1l1 13l1 4l1 5h10l1 1h28l1 -1h6l1 1h10l1 1h4l1 -1h6l1 1h4l1 1h8l1 1h9l1 1h3l1 -1h1l1 1h4l1 -1l1 -2l1 -2l1 1l1 1l1 1h2l1 -1h2l1 -11l1 -10l1 -3l1 -2h1l1 1h13l1 -1h4l1 -1h11l1 21l1 13l1 1h21l1 -1h19l1 1h18l1 1h12l1 1h6l1 -1h6l1 1h5l1 -1h2l1 -1h2l1 -1h1l1 -1h1l1 -1l1 -1l1 -2l1 -2l1 -1l1 -1l1 -2l1 -1h3l1 -1h1" stroke="#00c000"/>
<path d="M20.5 530.5h13l1 -2l1 -1l1 -4l1 -3l1 -13l1 -4h5l1 1h13l1 1h7l1 1h3l1 -1h2l1 1h15l1 1h6l1 1h2l1 1l1 -1l1 1h6l1 1h6l1 -1h2l1 1h5l1 -1h1l1 -1h3l1 -1h3l1 -1h2l1 -1h3l1 -1l1 1h3l1 1l1 12l1 11l1 1l1 2h2l1 -1l1 1h4l1 -11l1 -8l1 -8h9l1 -1h1l1 1h5l1 -1h16l1 1h5l1 1h2l1 -1h14l1 1l1 1h9l1 -1h3l1 -1l1 1h16l1 -1h1l1 -1l1 1h1l1 -1h8l1 1h4l1 -1h7l1 -1h2l1 -1h6l1 13l1 4l1 3l1 1h10l1 -1h23l1 1h7l1 1h10l1 1h14l1 1h4l1 -1h1l1 1h10l1 -1h1l1 1h2l1 1h8l1 1h3l1 -1l1 -1h1l1 1h1l1 1h1l1 -1h1l1 -1l1 -9l1 -10l1 -3l1 -2h1l1 -1h3l1 -1h6l1 -1l1 1h2l1 1h7l1 -1l1 -1h5l1 1l1 21l1 10l1 1h4l1 1h5l1 -1h11l1 2h49l1 -1h13l1 1h7l1 -1l1 -1h1l1 -2h2l1 1l1 -1l1 -1l1 -1l1 -1l1 -1l1 -2l1 -1l1 -1l1 -1l1 -1l1 -1h4" stroke="#c0c0c0"/>
<path d="M20.5 529.5h1l1 1h11l1 -1l1 -1l1 -4l1 -4l1 -13l1 -3h13l1 -1h3l1 1h3l1 1h3l1 1h1l1 -1h1l1 1h10l1 1h15l1 1h2l1 1h1l1 1h5l1 -1h3l1 1h8l1 -1h1l1 1h5l1 -1h3l1 -1h3l1 -1h2l1 -1h3l1 -1h1l1 -2h2l1 12l1 12l1 2l1 2h8l1 -12l1 -8l1 -8h18l1 1h10l1 1l1 1h6l1 1h6l1 -1h7l1 -1h13l1 1h1l1 1h11l1 -1h15l1 -1h7l1 -1h1l1 -1h7l1 -1h4l1 -1h8l1 12l1 4l1 4h5l1 1l1 1h33l1 -1h5l1 1h17l1 1h14l1 2h3l1 1h8l1 -1h1l1 1h10l1 -1l1 -2l1 1h2l1 1l1 -1h1l1 -1h1l1 -10l1 -10l1 -2l1 -3h13l1 1h2l1 -1h8l1 -1h2l1 1h3l1 20l1 11l1 1h12l1 1h8l1 1h15l1 -1h8l1 1h35l1 1h10l1 -1h2l1 -1h3l1 -1h1l1 -1l1 -2l1 -1l1 -1h1l1 -1l1 -1l1 -2l1 -1h1l1 -1l1 1l1 -1h1" stroke="#00c0c0"/>
<path d="M20.5 530.5h13l1 -1h1l1 -4l1 -4l1 -13l1 -3h3l1 -1h7l1 1h5l1 1h2l1 -1h15l1 1h2l1 1l1 -1h15l1 1h1l1 1h2l1 1l1 1h1l1 -1l1 1l1 1h11l1 -1h7l1 -1h1l1 -1h1l1 1l1 -1l1 -1h3l1 -1h2l1 -1h5l1 -1h2l1 12l1 12l1 1l1 2h8l1 -11l1 -8l1 -8h9l1 1h7l1 1h14l1 1h4l1 1h14l1 -1h7l1 -1h6l1 1h10l1 -1h20l1 -1h1l1 -1h3l1 1l1 1h7l1 -1h5l1 -1h7l1 12l1 4l1 4h2l1 -1h12l1 -1h10l1 1h7l1 1h2l1 1l1 -1h5l1 -1h4l1 1h7l1 1h3l1 -1h5l1 1h5l1 1h10l1 1h7l1 1h9l1 1h2l1 -2l1 -1l1 1h1l1 1h2l1 -1h2l1 -11l1 -10l1 -2l1 -3h2l1 -1h4l1 1h12l1 -1h3l1 -1l1 1h3l1 1h1l1 -1l1 20l1 11h6l1 1h5l1 1l1 1h15l1 -1h8l1 1h16l1 -1h6l1 -1h21l1 1h4l1 -1h9l1 -1h2l1 -1l1 -1h1l1 -1l1 -1l1 -1l1 -2l1 -1l1 -1l1 -1h2l1 -1h2" stroke="#ff00ff"/>
<path d="M20.5 533.5h6l1 1h2l1 -1h1l1 1h3l1 -3l1 -3l1 -9l1 -5h13l1 1h19l1 1h4l1 -1h13l1 1h4l1 1l1 1h1l1 1h1l1 1h7l1 -1h1l1 -1h13l1 -1l1 1h3l1 -1h4l1 -1h2l1 -1h4l1 -1h3l1 9l1 9l1 3l1 3h8l1 -10l1 -7l1 -8h12l1 1h3l1 -1h2l1 1h54l1 -1h7l1 -1h36l1 -1h8l1 12l1 2l1 2h2l1 1h20l1 1l1 1h11l1 1h27l1 -1h6l1 1l1 1h22l1 1h1l1 -1h7l1 -1h3l1 1l1 -1h1l1 -1h2l1 -8l1 -8l1 -3l1 -3h12l1 1h3l1 1h1l1 -1h3l1 -1h9l1 19l1 9h2l1 1h24l1 -1l1 -1h3l1 1h8l1 -1h4l1 1h25l1 -1h2l1 1l1 1h20l1 -1h3l1 -1h2l1 -1l1 -1h1l1 -1l1 -1l1 -1l1 -1h1l1 -1h3l1 -1" stroke="#ff0000"/>
<path d="M20.5 534.5h7l1 1h5l1 -1h1l1 -3l1 -3l1 -8l1 -5h19l1 1h18l1 1h15l1 -1h1l1 1h1l1 1l1 1l1 1h14l1 -1h8l1 -1h8l1 -1h1l1 -1h3l1 -1h1l1 1h1l1 -1h3l1 -1l1 9l1 9l1 3l1 2h8l1 -10l1 -7l1 -7h6l1 1h9l1 -1h1l1 -1h1l1 1h3l1 1h2l1 -1h6l1 1h1l1 1h36l1 -1h1l1 1h36l1 -1h3l1 -1l1 1h10l1 11l1 3l1 2h1l1 -1h2l1 1h10l1 1l1 -1h3l1 1h2l1 -1l1 -1h8l1 1l1 1l1 -1h11l1 -1h4l1 1h3l1 -1h5l1 1h20l1 1h22l1 -1l1 1h7l1 -8l1 -8l1 -3l1 -3h7l1 -1h4l1 1h8l1 1h10l1 18l1 8l1 1h4l1 -1h7l1 1h10l1 -1h3l1 1h18l1 1h18l1 -1h7l1 -1h4l1 1l1 1h2l1 -1h10l1 -1h3l1 -1l1 -1h3l1 -1l1 -1h2l1 -1h1l1 -1l1 -1l1 -1h2l1 -1l1 -1h1" stroke="#a05050"/>
<path d="M20.5 533.5h7l1 1h4l1 -1h2l1 -3l1 -4l1 -9l1 -6h1l1 1h20l1 1h13l1 1h4l1 1h7l1 -1h6l1 1h1l1 1h2l1 1h18l1 1h8l1 -1l1 -1h3l1 -1h3l1 -1h2l1 -1h4l1 -1h1l1 10l1 9l1 2l1 2h6l1 1h1l1 -9l1 -8l1 -7h3l1 -1h23l1 1l1 1h6l1 1h23l1 -1h10l1 -1h27l1 1h5l1 -1h5l1 -1h1l1 1h9l1 -1h5l1 11l1 3l1 2h4l1 2h9l1 1h22l1 -1h2l1 1h8l1 -1h6l1 1h19l1 1h8l1 -1h2l1 1h4l1 1h7l1 1h1l1 -1h1l1 -1h9l1 -8l1 -9l1 -3l1 -3h3l1 -1h2l1 1h2l1 -1h12l1 1h9l1 20l1 8h12l1 1h28l1 -1h1l1 1h8l1 -1h43l1 -1l1 1h3l1 -1h2l1 -1l1 -1l1 -1h1l1 -1l1 -1l1 -1l1 -1l1 -1h1l1 -1l1 -1h1" stroke="#00ff80"/>
<path d="M20.5 534.5h15l1 -3l1 -3l1 -8l1 -6h3l1 -1h1l1 1h7l1 1h2l1 1h4l1 -1h7l1 1h9l1 1h4l1 1h11l1 1h2l1 1h1l1 1h8l1 -1h1l1 -1h15l1 -1h4l1 -1h3l1 -1h3l1 -1h1l1 1h4l1 9l1 9l1 2l1 2h8l1 -9l1 -7l1 -8h2l1 1h33l1 1h23l1 -1h4l1 1h11l1 -1h2l1 1h9l1 -1h6l1 -1h6l1 1h23l1 11l1 2l1 2h2l1 1h4l1 -1h7l1 1h7l1 -1h2l1 -1h10l1 1h1l1 1h2l1 -1h8l1 1h8l1 -1h14l1 1h6l1 1h11l1 -1h5l1 1h2l1 1h1l1 -1h1l1 -1h7l1 -7l1 -8l1 -2l1 -4h4l1 1h21l1 -1l1 -1l1 1h3l1 19l1 8h25l1 -1h3l1 -1h1l1 1h17l1 1h9l1 -1h6l1 1h26l1 -1h1l1 -1h4l1 -1h3l1 -1l1 -1l1 -1h1l1 -1h1l1 -1h2l1 -1h3" stroke="#c000c0"/>
<path d="M20.5 526.5h9l1 -1h3l1 -1l1 -1l1 -4l1 -4l1 -17l1 -1h9l1 1h22l1 -1h1l1 1h2l1 -1h4l1 1h3l1 1h9l1 1h1l1 1h2l1 1h1l1 -1l1 -1h8l1 1h4l1 -1h9l1 -1h3l1 -1h2l1 -1h2l1 -1h4l1 -1h1l1 1h2l1 14l1 15l1 1l1 1h5l1 1h2l1 -13l1 -8l1 -9l1 -1h1l1 -1h4l1 1h4l1 1h5l1 -1h12l1 1l1 -1h3l1 1l1 1h2l1 -1h36l1 1h1l1 -1h5l1 -1h12l1 -1h1l1 1h8l1 -1l1 -1h4l1 1l1 -1h2l1 -1l1 -1h7l1 13l1 6l1 5h2l1 -1h12l1 1h11l1 1h14l1 -1h9l1 1l1 1h8l1 -1h4l1 1h1l1 1h1l1 1h4l1 1h3l1 -1h1l1 1h13l1 1h2l1 -1h5l1 -2l1 -3l1 2l1 1l1 1h2l1 -1h1l1 -1l1 -12l1 -10l1 -2l1 -2h1l1 1h18l1 -1h7l1 -1h3l1 22l1 14h1l1 1l1 -1h33l1 1h11l1 1h13l1 -1h14l1 1h18l1 -1h2l1 -1h1l1 -1h1l1 -1l1 -1l1 -1l1 -1l1 -2l1 -1l1 -2l1 -2l1 -1h1l1 -2l1 -1h2" stroke="#00c0c0"/>
<path d="M20.5 535.5h10l1 1l1 -1l1 1h2l1 -3l1 -2l1 -6l1 -5h7l1 1l1 -1h16l1 1h1l1 1h9l1 1h6l1 1h5l1 1h6l1 1h1l1 1h1l1 1h14l1 -1h5l1 1h5l1 -1h4l1 -2h2l1 1l1 -1h3l1 -2l1 1h2l1 -2h2l1 6l1 7l1 3l1 3h3l1 1h3l1 -1l1 -10l1 -6l1 -6h7l1 1h5l1 -1h14l1 1l1 1h8l1 1h8l1 -1l1 1h11l1 -1h3l1 -1h1l1 1h2l1 1h3l1 -1h38l1 1h13l1 -1h1l1 7l1 1l1 2h2l1 1l1 1h2l1 1h7l1 -1h29l1 1h6l1 1h6l1 -1h3l1 1h7l1 1h7l1 -1h9l1 -1h13l1 1h7l1 -1h4l1 -7l1 -7l1 -4l1 -3h8l1 1l1 -1h6l1 -1h5l1 1l1 1l1 -1h1l1 1h5l1 18l1 8h7l1 -1h11l1 -1h14l1 1h14l1 1h8l1 1h28l1 -1h9l1 -1h4l1 -1h1l1 -1l1 -1l1 -1l1 -1l1 -1h1l1 -1h1l1 -1h4" stroke="#00ff00"/>
<path d="M20.5 534.5h7l1 -1h7l1 -3l1 -2l1 -8l1 -6h6l1 1h19l1 1h16l1 1l1 1h9l1 -1h1l1 1h2l1 1h1l1 1h10l1 1h4l1 1h11l1 -1h3l1 -1h4l1 -1h3l1 -1h3l1 -1h1l1 9l1 8l1 3l1 2h8l1 -9l1 -8l1 -7h6l1 1h2l1 -1h1l1 1h11l1 -1l1 1h23l1 -1h2l1 1h8l1 -1h1l1 1h6l1 -1h9l1 1h2l1 -1h4l1 -1h14l1 1l1 -1h13l1 1h10l1 11l1 2l1 2h2l1 -1h2l1 1h11l1 1h3l1 1h3l1 -1h7l1 1l1 -1h4l1 -1h2l1 1h12l1 1h3l1 1h4l1 -1h17l1 -1h3l1 1h3l1 1l1 1h19l1 -1h3l1 -8l1 -7l1 -3l1 -4h6l1 1h8l1 -1h2l1 1l1 -1h1l1 -1h3l1 -1h6l1 19l1 7h7l1 1h2l1 1h2l1 1h6l1 -1h1l1 1h11l1 -1l1 1h5l1 -1h3l1 -1h56l1 -1h1l1 -1h2l1 -1h1l1 -1l1 -1h1l1 -1h4" stroke="#ff8000"/>
<path d="M20.5 525.5h13l1 -1l1 -1l1 -5l1 -5l1 -17l1 -1h8l1 1l1 1h6l1 -1l1 -1l1 1h11l1 1h17l1 1h8l1 1l1 1l1 1h2l1 1l1 -1h1l1 1h18l1 -1h2l1 -1h2l1 -2h3l1 -1h2l1 -1h2l1 -1h7l1 14l1 14l1 2l1 1h3l1 1h1l1 -1h2l1 -13l1 -9l1 -8h10l1 1h10l1 1h12l1 1h8l1 -1h19l1 1h7l1 -1h2l1 1h6l1 -1h12l1 -1h11l1 -1h6l1 -1h2l1 1l1 -1l1 -1h1l1 -1l1 -1l1 1h5l1 14l1 5l1 6h22l1 -1h6l1 1h29l1 1l1 -1h7l1 1l1 1h1l1 1l1 -1h4l1 1h1l1 1h6l1 1h12l1 1h5l1 -2l1 -3l1 1l1 2h1l1 1h1l1 -1l1 -1h1l1 -13l1 -12l1 -3l1 -2h9l1 1h5l1 1h12l1 -1l1 -1l1 -1l1 1l1 23l1 13l1 1l1 1h36l1 1l1 -1h10l1 1h27l1 -1l1 -1h1l1 1l1 1h13l1 -1h2l1 -1h2l1 -1l1 -1l1 -1l1 -2l1 -1l1 -1l1 -2l1 -1l1 -2l1 -1l1 -1h3l1 -1" stroke="#0080ff"/>
<path d="M20.5 537.5h15l1 -3l1 -2l1 -6l1 -5h19l1 1h7l1 -1h5l1 1h6l1 1h5l1 1h8l1 -1l1 1h2l1 1h1l1 1h5l1 1h21l1 -1h1l1 -1h1l1 1l1 -1h3l1 -1h3l1 -1h3l1 -1h1l1 7l1 7l1 2l1 3h8l1 -10l1 -6l1 -6h1l1 1h3l1 -1h1l1 1h2l1 -1h9l1 -1h1l1 1h34l1 1h36l1 1h7l1 1h25l1 8l1 1l1 2h3l1 1h16l1 1l1 -1h4l1 1h6l1 -1h11l1 -1h6l1 1h14l1 1h5l1 -1l1 -1l1 1h25l1 1h10l1 1h2l1 -7l1 -7l1 -5l1 -3l1 -1h3l1 -1h10l1 1l1 -1h1l1 1l1 1h12l1 18l1 7h12l1 1h19l1 -1h6l1 1h5l1 -1h1l1 -1h9l1 1h9l1 1l1 1h3l1 -1h2l1 1h6l1 -1h12l1 -1h3l1 -1h3l1 -1h1l1 -1l1 -1l1 1l1 -1h1l1 -1l1 -2h3l1 -1h1" stroke="#c0c0c0"/>
<path d="M20.5 532.5h7l1 -1h7l1 -4l1 -3l1 -10l1 -5h1l1 1h1l1 1h2l1 -1h15l1 1h15l1 1l1 -1h2l1 1h6l1 1h4l1 -1h1l1 1h2l1 1h1l1 1h27l1 -1h3l1 -1h3l1 -1h3l1 -1h1l1 1h2l1 -1h1l1 10l1 10l1 2l1 2h8l1 -10l1 -7l1 -8h5l1 -1h3l1 1h9l1 -1h1l1 1h53l1 1h15l1 1h19l1 -1h3l1 -1h5l1 -1h1l1 -1h3l1 1l1 12l1 3l1 3h10l1 -1h1l1 1h3l1 1h3l1 1h5l1 -1h9l1 1h23l1 -1h6l1 -1l1 1h2l1 1l1 1h4l1 -1h1l1 1h3l1 1h4l1 -1h5l1 1h7l1 1h2l1 -1l1 -1h1l1 1h6l1 -9l1 -8l1 -3l1 -3h6l1 -1l1 -1h2l1 1h6l1 -1h12l1 -1h1l1 19l1 9h1l1 1h3l1 1h15l1 1h10l1 -1h10l1 -1h3l1 1h9l1 -1h4l1 1h4l1 -1h9l1 1h13l1 -1h5l1 -1h3l1 -1h1l1 -1h1l1 -1l1 -1l1 -1l1 -1l1 -1h1l1 -1l1 -1h4" stroke="#00c0c0"/>
<path d="M20.5 536.5h5l1 1h9l1 -3l1 -2l1 -5l1 -5h5l1 -1h4l1 -1h2l1 1h14l1 1h7l1 1h1l1 1h1l1 1h10l1 1h5l1 1h1l1 1h2l1 1h2l1 -1h1l1 1h3l1 -1h1l1 1h8l1 -1h4l1 -1h4l1 -1h2l1 1h1l1 -1h3l1 -1l1 -1h1l1 -1l1 -1h2l1 6l1 6l1 3l1 3h8l1 -10l1 -6l1 -5h12l1 1h8l1 1h9l1 1h11l1 1h20l1 1h21l1 -1h4l1 1h2l1 -1h1l1 1h10l1 -1h20l1 6l1 1l1 1h1l1 1h3l1 1h18l1 1h8l1 -1h5l1 1l1 1h10l1 -1h16l1 1h3l1 1h15l1 1h20l1 -1h5l1 -7l1 -7l1 -4l1 -3h2l1 -1l1 1h11l1 -1h16l1 18l1 8h18l1 -1h2l1 1h8l1 1h1l1 -1h25l1 1h18l1 1h17l1 -1h2l1 -1h3l1 -1h1l1 -1h1l1 -1l1 -2h1l1 -1h4l1 -1h2" stroke="#c08040"/>
<path d="M20.5 535.5h1l1 -1h13l1 -2l1 -3l1 -5l1 -6h1l1 1h6l1 1h4l1 1h15l1 1l1 -1h5l1 1h4l1 -1h14l1 1h1l1 2h1l1 -1l1 1h15l1 1h6l1 -1h2l1 1h2l1 -1h2l1 -1h1l1 -1h3l1 -1h1l1 1h1l1 -1h4l1 7l1 6l1 3l1 3h1l1 -1h6l1 -10l1 -6l1 -6h16l1 1h1l1 1l1 -1h11l1 1h2l1 1l1 -1h2l1 1h12l1 1h13l1 -1h1l1 -1h11l1 1h11l1 -1h5l1 1l1 -1h29l1 8l1 2l1 1l1 1h1l1 1h1l1 2h1l1 -1h1l1 1h3l1 -1l1 1h28l1 -1h7l1 1h4l1 -1h8l1 1h4l1 -1h5l1 1l1 1h11l1 1h23l1 -1h1l1 -1l1 -7l1 -7l1 -3l1 -5h18l1 1h7l1 -1l1 1h1l1 -1h1l1 -1l1 18l1 8h3l1 1h3l1 -1h4l1 1l1 -1h6l1 1h9l1 1h3l1 -1h7l1 1h28l1 -1h4l1 1h20l1 -1h3l1 -1h2l1 -1h1l1 -1l1 -1h1l1 -1h1l1 -1h2l1 -1h2" stroke="#00ff00"/>
<path d="M20.5 527.5h9l1 1h3l1 -1l1 -1l1 -4l1 -5l1 -16l1 -2h7l1 1h8l1 -1h5l1 -1h8l1 1h6l1 1h9l1 -1h7l1 1h1l1 1h1l1 1h22l1 1h5l1 -1h3l1 -1h2l1 -1l1 1h1l1 -1h6l1 -1h1l1 14l1 14l1 1l1 2h8l1 -13l1 -9l1 -8h6l1 -1h14l1 1h11l1 1h2l1 1h4l1 -1h1l1 1h2l1 -1h1l1 -1h2l1 1h10l1 1h17l1 -1h2l1 -1h7l1 1h6l1 -1h4l1 -1h3l1 -1h1l1 1l1 -1l1 -1h3l1 1h1l1 -2h1l1 -1h1l1 -1h6l1 13l1 5l1 5h1l1 1h6l1 1h8l1 -1h9l1 1h26l1 1h7l1 1h6l1 1h3l1 -1l1 1h6l1 1h12l1 1h3l1 1h6l1 -2l1 -2l1 1l1 1l1 1l1 1l1 -1l1 -1h1l1 -1l1 -11l1 -11l1 -2l1 -2h20l1 -1h11l1 22l1 13h1l1 1h26l1 -1h38l1 1h28l1 -1h2l1 -1h2l1 -1l1 -1l1 -2l1 -1l1 -1l1 -2l1 -1l1 -1l1 -2l1 -1l1 -1h4" stroke="#c0ff00"/>
<path d="M20.5 531.5h13l1 -1h1l1 -4l1 -3l1 -12l1 -4h5l1 1h7l1 -1h12l1 1h21l1 1h2l1 1h5l1 1h1l1 1l1 -1h1l1 1h15l1 1h8l1 -1h3l1 -1h1l1 -1h2l1 -1h2l1 -1h4l1 -1h3l1 11l1 11l1 2l1 2h1l1 1h6l1 -11l1 -8l1 -8h13l1 -1h5l1 1h16l1 1h8l1 1h3l1 -1h26l1 1h6l1 -1l1 1h24l1 -1h2l1 -1h6l1 -1l1 1h7l1 12l1 3l1 3l1 1h15l1 -1h6l1 1h17l1 1h2l1 -1h4l1 1h13l1 -1h1l1 1h3l1 1h8l1 1h16l1 1h5l1 -1l1 -1h2l1 -1l1 -1h1l1 1h1l1 1l1 -1h2l1 -1l1 -9l1 -9l1 -2l1 -2h1l1 1l1 -1h1l1 -1h2l1 -1h3l1 1h1l1 1h1l1 -1h13l1 1h2l1 20l1 9h2l1 -1h6l1 1h6l1 1h7l1 1h30l1 -1h16l1 1h7l1 -1h5l1 -1h4l1 1h2l1 1l1 -1h3l1 -1h2l1 -1h1l1 -1l1 -1l1 -1l1 -1l1 -1l1 -1l1 -1l1 -1h2l1 -1h2" stroke="#8000ff"/>
<path d="M20.5 528.5h13l1 -1l1 -1l1 -5l1 -4l1 -16l1 -2l1 1h1l1 -1h8l1 1h1l1 1h1l1 -1h6l1 1h12l1 1h6l1 -1h13l1 1h1l1 1h1l1 1l1 1h20l1 -1h5l1 -1h1l1 1l1 -1l1 -1h3l1 -1h2l1 -1h5l1 -1h2l1 14l1 13l1 1l1 2h3l1 -1h3l1 1l1 -12l1 -9l1 -10h6l1 1h2l1 1h3l1 1h5l1 -1h1l1 -1h11l1 1h3l1 1h7l1 1h5l1 -1h28l1 -1h2l1 1h10l1 -1h13l1 -1h7l1 -1h2l1 -1l1 1l1 -1h6l1 13l1 5l1 5h20l1 -1h5l1 1h3l1 -1h1l1 1h5l1 -1h3l1 1h5l1 1h6l1 -1h1l1 1l1 -1l1 -1h7l1 1h3l1 1h4l1 1l1 1h9l1 1h9l1 1h4l1 1h2l1 -2l1 -2h1l1 1h1l1 1l1 -1h1l1 -1h1l1 -11l1 -11l1 -2l1 -2h4l1 1h7l1 -1h19l1 22l1 12l1 1h11l1 -1h16l1 1l1 1h1l1 -1h42l1 -1h18l1 -1h2l1 -1h2l1 -1h1l1 -1l1 -1l1 -1l1 -1l1 -1l1 -1l1 -1l1 -2l1 -1l1 -2h4l1 -1" stroke="#80ff80"/>
<path d="M20.5 529.5h13l1 -1l1 -1l1 -4l1 -4l1 -15l1 -3h18l1 1l1 1h5l1 1h5l1 -1h1l1 1h9l1 1h13l1 1l1 -1l1 1h1l1 1l1 -1h6l1 1h7l1 1h9l1 -2h3l1 -1l1 1h2l1 -1h2l1 -2h4l1 -2h4l1 13l1 12l1 2l1 1h5l1 1h2l1 -11l1 -9l1 -8h2l1 1h10l1 -1h1l1 -1h10l1 1l1 1h2l1 -1h5l1 1h9l1 1h2l1 1h2l1 -1h16l1 1h6l1 -1h7l1 -1h10l1 1h5l1 -1h7l1 -1h9l1 -1h1l1 -1h6l1 13l1 4l1 5h2l1 -1l1 -1h31l1 1h10l1 1h7l1 1l1 -1h9l1 1h2l1 1h3l1 -1l1 1l1 1h6l1 1h4l1 -1h3l1 -1h5l1 1h8l1 -2l1 -1h1l1 1l1 1h3l1 -1h1l1 -11l1 -10l1 -2l1 -3h9l1 1h15l1 -1l1 1h5l1 22l1 11l1 1h8l1 -1h1l1 1h1l1 -1h5l1 -1h6l1 2h2l1 -1h35l1 1h2l1 1h8l1 -1h1l1 1h14l1 -1h3l1 -1h2l1 -1h1l1 -1l1 -1l1 -1l1 -1l1 -1l1 -2l1 -1l1 -1l1 -2h4l1 -1" stroke="#ff00ff"/>
<path d="M20.5 534.5h1l1 -1h13l1 -3l1 -3l1 -8l1 -5l1 -1h6l1 1h10l1 1h17l1 1h1l1 1h17l1 1h1l1 1l1 -1l1 1h3l1 1h2l1 -1h7l1 1h2l1 -1h2l1 1h8l1 -1h4l1 -1h3l1 -1h3l1 -1h3l1 -1l1 9l1 9l1 3l1 2h5l1 -1l1 -1h1l1 -10l1 -7l1 -7h6l1 1h8l1 -1h2l1 1h4l1 1h20l1 1h18l1 -1l1 1h17l1 -1h11l1 -1l1 1h17l1 -1h3l1 -1h10l1 11l1 3l1 2l1 1h5l1 1h14l1 -1h8l1 1l1 1h1l1 -1h9l1 1h18l1 1h20l1 1h5l1 -1h16l1 -1l1 1h1l1 1h5l1 -8l1 -8l1 -3l1 -3l1 -1h3l1 -1h3l1 -1h23l1 18l1 8l1 1h32l1 1h2l1 -1h7l1 1h1l1 2h8l1 -1h2l1 -1h15l1 1l1 1h1l1 -1l1 -1l1 1h1l1 -1h12l1 -1h4l1 -1h3l1 -1h1l1 1l1 -1l1 -1h1l1 -1l1 -1l1 -1l1 -1h2l1 -1h1" stroke="#ff00ff"/>
<path d="M20.5 524.5h10l1 -1h2l1 -1l1 -2l1 -6l1 -5l1 -20l1 1h1l1 -1h7l1 1h16l1 1h11l1 1h4l1 -1h2l1 1l1 -1l1 1h1l1 -1h5l1 1l1 1h1l1 1h1l1 1h6l1 1h16l1 -1h1l1 -1h3l1 -1h2l1 -1h2l1 -1h10l1 16l1 16l1 1l1 1h8l1 -14l1 -9l1 -10h16l1 1h17l1 1h1l1 1l1 -1h5l1 -1h38l1 -1h4l1 1h4l1 -1l1 1h2l1 -1h6l1 -2h6l1 -1l1 1h3l1 -1h2l1 -1h1l1 -1l1 -1h6l1 14l1 8l1 6h4l1 -1h3l1 -1h1l1 1h2l1 1h46l1 1h7l1 1l1 -1l1 1h3l1 1l1 -1h3l1 1h7l1 1h11l1 1h5l1 -3l1 -3l1 1l1 2l1 1l1 1l1 -1l1 -1h1l1 -1l1 -13l1 -13l1 -1l1 -2h9l1 1h5l1 -1h9l1 -1h6l1 24l1 15l1 1l1 1h13l1 1h1l1 -1h10l1 1h6l1 1h38l1 -1l1 -1h19l1 -1l1 1h1l1 -1h1l1 -1h1l1 -1h1l1 -2l1 -1l1 -1l1 -2l1 -2l1 -1l1 -2l1 -2h2l1 -1h2" stroke="#0000ff"/>
<path d="M20.5 532.5l1 -1h11l1 1h2l1 -4l1 -3l1 -10l1 -5h2l1 1h3l1 -1h16l1 1h19l1 1h12l1 1l1 1h1l1 1h1l1 1h6l1 1h5l1 -1h13l1 -1h8l1 -1h2l1 -1h5l1 -1h1l1 10l1 10l1 2l1 2h8l1 -10l1 -8l1 -7h1l1 -1h9l1 -1h11l1 1h11l1 1h13l1 -1h38l1 1h2l1 -1h15l1 1h2l1 -1h1l1 -1h4l1 1l1 -1h2l1 -1h6l1 12l1 3l1 3h4l1 1h11l1 -1h2l1 1h22l1 1h2l1 -1h18l1 1h3l1 1h1l1 1h3l1 -1h5l1 1h4l1 1h17l1 1h1l1 -1l1 -1h1l1 1h1l1 -1h4l1 -9l1 -8l1 -3l1 -3h5l1 -1h2l1 1h11l1 -1h4l1 1h3l1 -1l1 1h1l1 19l1 9h1l1 1h2l1 -1h23l1 1h25l1 -1h12l1 1h19l1 -1h8l1 1l1 -1h3l1 -1h1l1 -1h1l1 -1l1 -1l1 -1l1 -1l1 -1l1 -1l1 -1l1 -1h4" stroke="#0080ff"/>
<path d="M20.5 530.5h5l1 -1h8l1 -1l1 -4l1 -4l1 -13l1 -4h2l1 1h4l1 1h16l1 1h22l1 1h9l1 1h1l1 1h2l1 1l1 -1h12l1 1h10l1 -1h3l1 -1l1 -1h2l1 -1h2l1 -1h3l1 -1h3l1 1h1l1 12l1 12l1 2l1 1h8l1 -11l1 -8l1 -9h4l1 1h13l1 -1h14l1 1h12l1 -1h13l1 1h10l1 1h11l1 -1h1l1 1h7l1 -1h1l1 -1h5l1 1h9l1 -1h6l1 -1h2l1 -1h6l1 13l1 4l1 4h18l1 1h2l1 -1h9l1 -1h34l1 1l1 1h1l1 -1h2l1 1h7l1 1h16l1 1h7l1 -2l1 -1l1 1h1l1 1h3l1 -1h1l1 -10l1 -10l1 -3l1 -2h4l1 1h2l1 -1h10l1 1l1 -1h5l1 -1h6l1 21l1 11l1 1l1 1h3l1 1h2l1 -1h8l1 1h13l1 -1h2l1 1h14l1 -1h11l1 1h2l1 -1h3l1 -1h3l1 1l1 1h17l1 -1h5l1 -2h2l1 -1h1l1 -1h1l1 -1l1 -1l1 -1l1 -1h1l1 -2l1 -1l1 -1h1l1 -1h3" stroke="#8000ff"/>
<path d="M20.5 530.5h1l1 -1h12l1 -1l1 -3l1 -4l1 -13l1 -4h2l1 1h20l1 1h19l1 -1h3l1 1h11l1 1h2l1 1h9l1 1h14l1 -1h3l1 -1l1 1h2l1 -1h2l1 -1h3l1 -1h5l1 12l1 12l1 2l1 1h3l1 -1h4l1 -11l1 -8l1 -9h3l1 1h3l1 -1h16l1 1h8l1 1h1l1 -1h9l1 1h7l1 -1h16l1 1h13l1 1h3l1 -1h6l1 -1h1l1 1h13l1 -1h6l1 -1h2l1 -1h6l1 13l1 4l1 4h16l1 -1l1 1h3l1 -1h10l1 1h2l1 1h31l1 1h4l1 1h6l1 -1l1 1h3l1 -1h12l1 1h7l1 -2l1 -1l1 1h1l1 2h3l1 -1l1 -1l1 -10l1 -10l1 -2l1 -3h2l1 1h1l1 -1h3l1 1h5l1 1h5l1 -1h2l1 -1h3l1 1h4l1 21l1 11h1l1 1l1 -1h4l1 1h5l1 -1h10l1 1h25l1 -1h10l1 1h7l1 -1h3l1 -1h18l1 1h4l1 -1h2l1 -1h1l1 -1h1l1 -1l1 -1h1l1 -1l1 -1l1 -2l1 -1l1 -1h2l1 -1l1 -1h1" stroke="#ffb060"/>
<path d="M20.5 534.5h9l1 -1h4l1 -1l1 -2l1 -3l1 -8l1 -6h12l1 1h18l1 1h18l1 1h6l1 1h1l1 1h2l1 1h4l1 1h1l1 1h17l1 -1h4l1 -1h3l1 -1h3l1 -1h3l1 -1h3l1 9l1 9l1 2l1 2h8l1 -9l1 -8l1 -7h13l1 1h31l1 -1h3l1 -1h38l1 1h4l1 1h1l1 -1h3l1 -1h2l1 1h2l1 1h6l1 -1h3l1 1h4l1 -1h6l1 12l1 2l1 2h4l1 1h36l1 -1h8l1 -1h1l1 1h16l1 1h9l1 1h9l1 1h25l1 -9l1 -8l1 -4l1 -3h18l1 -1h10l1 1h2l1 18l1 8h35l1 1h3l1 1h3l1 -1h5l1 1h5l1 1h14l1 -1h23l1 1l1 -1h3l1 -1h3l1 -1h1l1 -1l1 -1h1l1 -1l1 -1l1 -1l1 -1h3l1 -1l1 -1" stroke="#ff00ff"/>
<path d="M20.5 527.5l1 -1h5l1 1l1 -1h5l1 -1l1 -1l1 -5l1 -4l1 -16l1 -2h4l1 1h7l1 -1h3l1 1h5l1 1h4l1 -1h13l1 1h5l1 1h2l1 -1h1l1 1h1l1 1h2l1 1l1 -1l1 1h1l1 1h12l1 1h6l1 -1h5l1 -1h3l1 -1h3l1 -1h2l1 -1h2l1 -1h3l1 -1h2l1 14l1 13l1 2l1 1l1 1h7l1 -12l1 -9l1 -9h1l1 1h9l1 1h20l1 -1h1l1 1h2l1 1h6l1 -1h17l1 1h1l1 -1h7l1 1h6l1 -1h11l1 -1h1l1 -1h10l1 1l1 -1l1 1l1 -1h6l1 -2h3l1 -1h1l1 -1h7l1 13l1 5l1 5l1 1l1 1h14l1 -1h2l1 1h14l1 1h9l1 -1h14l1 -1h7l1 1h2l1 1h4l1 1l1 1h3l1 1h2l1 1h1l1 -1l1 1h1l1 -1h3l1 1h4l1 1h7l1 -2l1 -2l1 1l1 1l1 1l1 -1h1l1 -1h1l1 -1l1 -11l1 -11l1 -2l1 -3h2l1 -1h28l1 -1l1 23l1 12l1 1l1 1h11l1 1h14l1 -1l1 1l1 1h50l1 -1h5l1 -1h7l1 -1h3l1 -1h1l1 1h1l1 -1l1 -1l1 -1l1 -1l1 -2l1 -1l1 -2l1 -1l1 -2h3l1 -1h1" stroke="#00ffff"/>
<path d="M20.5 531.5h10l1 1h1l1 -1l1 -1h1l1 -3l1 -4l1 -10l1 -5h6l1 1h1l1 1h11l1 1h6l1 1h19l1 1l1 -1h8l1 1l1 1l1 1h2l1 1l1 -1h10l1 1h11l1 -1l1 -1h4l1 -1h3l1 -1h2l1 -1l1 -1h3l1 -1h3l1 10l1 11l1 2l1 2h8l1 -11l1 -8l1 -7h26l1 1h26l1 1h12l1 -1h2l1 1h2l1 1h16l1 -1h7l1 1h9l1 -1h11l1 -1h8l1 12l1 3l1 3h2l1 -1h3l1 1h2l1 -1h32l1 1h17l1 -1h2l1 1h2l1 1h9l1 1l1 -1h3l1 1l1 -1h3l1 1h5l1 1h1l1 1h10l1 -1l1 -1l1 1h2l1 1l1 -1h2l1 -1l1 -9l1 -9l1 -4l1 -3h3l1 1h3l1 1h12l1 -1h5l1 -1h4l1 -1l1 20l1 10h29l1 1h2l1 1h5l1 1h12l1 -1l1 1h9l1 -1h3l1 1h10l1 -1h17l1 -1l1 1h2l1 -1h2l1 -1h1l1 -2l1 -1l1 -1l1 -1h1l1 -1l1 -1l1 -1l1 -1h4" stroke="#a05050"/>
<path d="M20.5 530.5h5l1 -1h4l1 1h2l1 -1l1 -1l1 -4l1 -3l1 -12l1 -4h7l1 -1h7l1 1h2l1 -1h3l1 1h3l1 1h1l1 -1h8l1 1h2l1 1l1 -1h7l1 1h1l1 1h5l1 1h2l1 1h1l1 1h13l1 -1h3l1 -1h6l1 -1h3l1 -1h3l1 -1h2l1 -1h3l1 -1l1 1h1l1 1h2l1 12l1 11l1 2l1 2h8l1 -11l1 -9l1 -8h11l1 1h22l1 1h21l1 -1h3l1 -1h10l1 1h3l1 -1h16l1 1h8l1 -1h3l1 1h4l1 -1h7l1 -1h2l1 -1h6l1 13l1 4l1 3l1 1h35l1 -1h1l1 -1h7l1 1h7l1 1h17l1 1h3l1 1l1 1h10l1 1h7l1 -1h1l1 -1h6l1 -1l1 -1h1l1 1h1l1 1h1l1 -1h1l1 -1l1 -9l1 -10l1 -3l1 -2h3l1 1h9l1 -1h4l1 -1h1l1 1h11l1 21l1 10l1 1h5l1 1h12l1 -1l1 -1h1l1 1h33l1 1h5l1 -1h7l1 1h7l1 -1h16l1 -1h2l1 -1h3l1 -1l1 -1h1l1 -1h1l1 -2l1 -1l1 -1l1 -2h1l1 -1h4" stroke="#ffff00"/>
<path d="M20.5 529.5h14l1 -1l1 -4l1 -4l1 -14l1 -3l1 -1h3l1 1h4l1 1h9l1 -1h5l1 1h23l1 1h2l1 1h4l1 1h4l1 1h24l1 -1h1l1 1h1l1 -1h3l1 -1h2l1 -1h3l1 -1h5l1 12l1 12l1 2l1 1h1l1 -1h6l1 -11l1 -8l1 -9h6l1 1h27l1 1h14l1 1h1l1 -1h38l1 1h3l1 -1h12l1 -1h2l1 -1h3l1 1l1 -1h2l1 -1h1l1 1l1 -1h6l1 13l1 4l1 4h8l1 -1h15l1 1l1 1h5l1 1h4l1 -1h2l1 1h17l1 -1h9l1 1h2l1 1h1l1 1h3l1 -1h1l1 1h2l1 1h2l1 -1h13l1 1h1l1 -1h4l1 -2l1 -1l1 1h1l1 1h2l1 1l1 -1h1l1 -10l1 -10l1 -3l1 -2h4l1 1h1l1 -1l1 -1h8l1 1h1l1 -1h6l1 -1h6l1 21l1 11h1l1 1h1l1 1h8l1 1l1 -1h6l1 1h3l1 -1h6l1 -1h8l1 1h7l1 1h22l1 -1h4l1 -1h10l1 1h9l1 -1h2l1 -1h1l1 -1h1l1 -1l1 -1h1l1 -1l1 -2l1 -1l1 -1l1 -1l1 -1l1 -1h3" stroke="#80ff80"/>
<path d="M20.5 535.5h1l1 1h13l1 -2l1 -3l1 -6l1 -7l1 -1h5l1 1h18l1 1h15l1 1h9l1 1h4l1 1h1l1 2h1l1 1h24l1 -1h6l1 -1h2l1 -1h7l1 -1h2l1 -1l1 -1l1 8l1 7l1 3l1 3h2l1 1h5l1 -10l1 -6l1 -7h4l1 -1h4l1 1h16l1 1h6l1 -1h5l1 -1h2l1 1l1 1l1 -1h6l1 1h23l1 -1h40l1 1h1l1 -1h9l1 9l1 2l1 1h1l1 1h4l1 1h54l1 1h14l1 1h7l1 -1h14l1 1h1l1 1h5l1 -2h1l1 1h3l1 -1h1l1 -7l1 -6l1 -3l1 -4h21l1 -1l1 1h2l1 -1h2l1 1h3l1 18l1 8h6l1 -1h3l1 1h7l1 -1h4l1 1h25l1 1h19l1 -1h15l1 1h5l1 -1h3l1 -1h4l1 -1l1 1h2l1 -2l1 -1h1l1 -1l1 -1h1l1 -1h1l1 -1h4" stroke="#ff00ff"/>
<path d="M20.5 530.5h1l1 -1h11l1 -1l1 -1l1 -4l1 -4l1 -12l1 -3h13l1 -1h3l1 1h10l1 1h5l1 -1h4l1 1h16l1 2h1l1 1l1 1h1l1 1h1l1 -1l1 -1h10l1 1h5l1 1h6l1 -1h2l1 -1l1 -1h1l1 -1h1l1 -1h2l1 -1h3l1 1h1l1 -1h2l1 12l1 13l1 2l1 2h3l1 -1h1l1 1h2l1 -12l1 -8l1 -8h6l1 -1h2l1 1h10l1 -1h7l1 1l1 1h7l1 1h1l1 -1h17l1 -1h12l1 1h3l1 -1h5l1 1l1 -1l1 1h8l1 -1h4l1 1h1l1 -1l1 1h1l1 -1h12l1 -1h4l1 -1h8l1 12l1 4l1 4h5l1 1h18l1 -1h3l1 1h7l1 -1h9l1 -1h16l1 1h5l1 1h1l1 1h7l1 1h5l1 1h8l1 1h10l1 -1l1 -3l1 1l1 1h2l1 -1h1l1 -1h1l1 -10l1 -10l1 -2l1 -3h19l1 1h5l1 -1h2l1 -1h3l1 21l1 11l1 1h33l1 1h3l1 1h1l1 -1l1 -1h3l1 1l1 1h5l1 -1h14l1 1h10l1 -1h6l1 1h11l1 -1h3l1 -1h1l1 -1l1 -2l1 -1l1 -1l1 -1l1 -1h1l1 -2l1 -1h1l1 -1h1l1 -1h1" stroke="#40ff40"/>
<path d="M20.5 532.5l1 -1h13l1 -1l1 -2l1 -2l1 -10l1 -5h7l1 -1h1l1 1l1 -1h19l1 1h19l1 1h6l1 1h2l1 1h1l1 1h10l1 1h11l1 -1h1l1 -1h2l1 1l1 -1h3l1 1l1 -1h2l1 -1h4l1 -1h3l1 10l1 10l1 1l1 3h8l1 -10l1 -8l1 -7h31l1 -1h1l1 1h2l1 -1h8l1 1h9l1 -1h22l1 1h12l1 -1h8l1 -1h10l1 1h7l1 -1h2l1 -1h5l1 12l1 3l1 2h1l1 1h1l1 1h7l1 1h3l1 -1h3l1 1h19l1 1h16l1 -1h6l1 1h6l1 1h12l1 1h22l1 -1h3l1 1h3l1 -1l1 -8l1 -9l1 -3l1 -3h17l1 -1h7l1 1h1l1 -1h4l1 20l1 9h3l1 -1h1l1 1h8l1 -1h14l1 1h3l1 1h26l1 -1l1 -1h4l1 1l1 1h14l1 -1h13l1 -1h3l1 -1h2l1 -1h1l1 -1l1 -1l1 -1l1 -1l1 -1h1l1 -1h4l1 -1" stroke="#0000ff"/>
<path d="M20.5 531.5h13l1 -1h1l1 -5l1 -3l1 -12l1 -4h3l1 1l1 1h1l1 1h4l1 -1h10l1 1h4l1 1h11l1 -1h4l1 1h4l1 1h7l1 1h1l1 1h2l1 1h12l1 -1h11l1 -1l1 1h2l1 -2h2l1 1l1 -2h3l1 -1h1l1 -1h1l1 -1h4l1 11l1 11l1 2l1 2h3l1 1h1l1 -1h2l1 -11l1 -8l1 -8h6l1 1h1l1 1h12l1 1h2l1 -1h2l1 -1h8l1 1l1 1h18l1 1h6l1 -1h15l1 -1h1l1 -1l1 1h2l1 1l1 -1l1 -1h7l1 1h5l1 -1h17l1 -1h7l1 1l1 12l1 3l1 3l1 1h6l1 -1h15l1 1h21l1 1h9l1 -1h4l1 1h7l1 -1l1 1h4l1 1l1 -1h2l1 1h8l1 -1h4l1 1h2l1 1l1 1h8l1 -1l1 -1h1l1 1l1 -1l1 1l1 -1h2l1 -1l1 -9l1 -9l1 -3l1 -2h2l1 -1h16l1 -1h8l1 1h3l1 20l1 11h4l1 -1h3l1 1h1l1 -1l1 1h2l1 1h31l1 -1l1 1h1l1 -1h1l1 -1h10l1 1h19l1 -1h2l1 1h9l1 -1h3l1 -2h2l1 -1h1l1 -1l1 -1l1 -1h1l1 -2l1 -1l1 -1l1 -1h2l1 -1h2" stroke="#a05050"/>
<path d="M20.5 529.5h14l1 -1l1 -4l1 -4l1 -14l1 -3l1 -1h2l1 1h2l1 1l1 1h1l1 -1h20l1 2h22l1 1h4l1 1l1 -1l1 1h1l1 1h3l1 -1h1l1 1h6l1 -1h10l1 -1h1l1 1h1l1 -1h3l1 -1h2l1 -1h2l1 -1h5l1 -1h1l1 12l1 12l1 2l1 1h8l1 -11l1 -9l1 -7h12l1 2h1l1 -1h1l1 -1h9l1 1l1 1h6l1 1h18l1 -1h2l1 1l1 -1h1l1 1h30l1 -1h1l1 -1h8l1 -1h7l1 -1h8l1 -1h1l1 -1h7l1 13l1 4l1 4h21l1 1h18l1 1l1 1l1 -1h4l1 1h18l1 -1h1l1 1h4l1 2h6l1 -1h1l1 1h6l1 -1h8l1 1h6l1 -2l1 -1h1l1 1l1 1h3l1 -1h1l1 -10l1 -10l1 -3l1 -2h8l1 -1h7l1 1h12l1 1h2l1 21l1 11h1l1 1h1l1 -1h16l1 1h34l1 -1h6l1 1h14l1 -1h6l1 1h11l1 -1h3l1 -1l1 -1l1 -1h1l1 -1l1 -1l1 -2l1 -1l1 -2l1 -1l1 -1l1 -1l1 -1h4" stroke="#8000ff"/>
<path d="M20.5 531.5h9l1 1h1l1 -1l1 1h1l1 -1l1 -3l1 -4l1 -11l1 -5l1 -1h9l1 1h5l1 1h14l1 1h15l1 1h4l1 1h1l1 -1h2l1 1h2l1 1h1l1 1h3l1 1h19l1 -1h3l1 -1h2l1 -1h1l1 -1h1l1 1l1 -1h3l1 -2h5l1 10l1 11l1 2l1 2h7l1 1l1 -11l1 -8l1 -7h26l1 -1h3l1 1h10l1 1l1 -1h1l1 1h22l1 -1h1l1 1h1l1 -1h26l1 1h3l1 -1h15l1 -1l1 -1h8l1 13l1 3l1 3h5l1 1h2l1 -1h16l1 1h32l1 -1h3l1 1h4l1 -1h5l1 1h8l1 1h1l1 1h2l1 1h12l1 -1h1l1 -1h2l1 -1l1 -1l1 1h1l1 1h1l1 1l1 -1h2l1 -9l1 -9l1 -3l1 -2h7l1 -1h19l1 -1l1 -1h3l1 20l1 10h1l1 1h9l1 1h6l1 1h2l1 -1h3l1 1h10l1 -1h2l1 -1l1 1h5l1 1h19l1 -1h23l1 1h6l1 -1h3l1 -1h1l1 -1l1 -1h1l1 -1l1 -1l1 -1l1 -1l1 -1l1 -2l1 -1h4" stroke="#80ffff"/>
<path d="M20.5 530.5h6l1 1h6l1 -1h1l1 -4l1 -4l1 -12l1 -4h11l1 1h21l1 1h8l1 -1h2l1 1h4l1 -1h5l1 1h1l1 1h1l1 1h2l1 -1h26l1 -1h3l1 -1h2l1 -1h2l1 -1l1 1h5l1 -1l1 12l1 12l1 1l1 2h8l1 -11l1 -8l1 -8h2l1 1h20l1 1h2l1 -1h8l1 -1l1 1h3l1 1h4l1 -1h12l1 1h1l1 -1h22l1 -1h1l1 1h1l1 -1h8l1 1h4l1 1h3l1 -1h9l1 -1h1l1 -1h2l1 -1h2l1 -1l1 1h3l1 12l1 4l1 4h6l1 1h7l1 1h1l1 -1l1 -1h4l1 1h6l1 -1l1 1h3l1 -1h9l1 1l1 1h20l1 1h5l1 1h8l1 1h15l1 -1h2l1 1l1 1h3l1 -2l1 -1l1 1h1l1 1h3l1 -1h1l1 -11l1 -9l1 -3l1 -3h7l1 -1h21l1 -1h2l1 21l1 11h1l1 1h12l1 1h8l1 1h3l1 -1h8l1 -1h7l1 1h8l1 -1h18l1 1h13l1 -1h9l1 -1h2l1 -1h1l1 1l1 -1h1l1 -1l1 -2l1 -1l1 -1l1 -1l1 -2l1 -1l1 -1h3l1 -1h1" stroke="#c08040"/>
<path d="M20.5 535.5h1l1 1h1l1 -1h4l1 -1h3l1 1h2l1 -2l1 -3l1 -7l1 -7l1 1h20l1 1h15l1 1h10l1 1l1 1l1 -1h2l1 1h1l1 -1h2l1 1h1l1 1h1l1 1h5l1 1h9l1 -1h7l1 -1h4l1 -1h7l1 1l1 -1h3l1 -1h3l1 7l1 8l1 3l1 2h8l1 -9l1 -7l1 -8l1 1h7l1 1h6l1 -1h6l1 1h10l1 1h11l1 -1h13l1 -1h13l1 1h4l1 1h3l1 -1h5l1 1h12l1 -1h1l1 1h14l1 -1h9l1 10l1 1l1 1h2l1 1h15l1 1h3l1 1h14l1 -1h6l1 1h2l1 1h4l1 -1h1l1 -1h21l1 2h13l1 -1h10l1 1h13l1 -7l1 -7l1 -3l1 -5h13l1 1h3l1 1h1l1 -1h12l1 18l1 7h12l1 -1l1 1l1 1h3l1 -1h3l1 -1h4l1 1h17l1 1h26l1 -1h5l1 -1h9l1 1h3l1 1l1 -1h4l1 -1h1l1 -1h1l1 -1h2l1 -1l1 -1h1l1 -1l1 -1h1l1 -1h3l1 -1h1" stroke="#00ffff"/>
<path d="M20.5 533.5h3l1 1h1l1 -1h1l1 -1h6l1 -1l1 -3l1 -3l1 -9l1 -5h1l1 1h5l1 -1h6l1 1h1l1 1h17l1 1h3l1 1h14l1 1h4l1 1l1 -1l1 1h1l1 1h9l1 -1h2l1 1h6l1 1h3l1 -1h4l1 -2h7l1 -1h3l1 -1h2l1 -1h1l1 9l1 10l1 2l1 2h5l1 -1h2l1 -10l1 -7l1 -8h5l1 1h1l1 -1h3l1 1l1 1h1l1 1h4l1 -1h10l1 -1h1l1 1h4l1 1h3l1 -1h35l1 1h4l1 -1h1l1 -1h11l1 1h3l1 -1h14l1 1l1 -1h1l1 -1h9l1 12l1 2l1 3h13l1 1h4l1 2h19l1 -1h13l1 1h15l1 1h14l1 1h19l1 -1h2l1 -1h1l1 1l1 1h2l1 -1h2l1 -9l1 -9l1 -3l1 -3h14l1 1h4l1 -1h9l1 -1h2l1 19l1 9h25l1 1h2l1 2h7l1 -1h5l1 -1l1 1h22l1 -1h11l1 1h4l1 -1h7l1 1h3l1 -1h3l1 -1h3l1 -1l1 -1h1l1 -1l1 -1l1 -1l1 -1h3l1 -1h3" stroke="#c0ff00"/>
<path d="M20.5 526.5l1 -1h12l1 -1l1 -1l1 -5l1 -5l1 -18l1 -1l1 1h1l1 -1h4l1 1h7l1 1h4l1 -1h7l1 1h2l1 -1l1 1h23l1 1h1l1 1h2l1 1h9l1 1h5l1 1h10l1 -1h3l1 -2h1l1 1l1 -1h2l1 -1h4l1 -1h4l1 15l1 14l1 1l1 1l1 -1h7l1 -13l1 -9l1 -9l1 1h2l1 1h10l1 -1l1 1h10l1 1h8l1 1h11l1 -1h5l1 -1h8l1 1h2l1 -1h3l1 1h1l1 1h14l1 -1h1l1 -1h6l1 1h4l1 -2h1l1 -1h4l1 1h2l1 -2h3l1 1h1l1 -1h2l1 -1l1 -1h7l1 13l1 6l1 5h3l1 1h4l1 -1h7l1 1h19l1 -1h2l1 1l1 1h13l1 -1h5l1 1h4l1 1h2l1 -1l1 1h2l1 1l1 1h15l1 1h7l1 1h5l1 1h1l1 -3l1 -2l1 1l1 1l1 1l1 1l1 -1h1l1 -1l1 -1l1 -12l1 -12l1 -2l1 -2h17l1 1h4l1 -1h9l1 23l1 13l1 1l1 1h1l1 -1h2l1 -1h5l1 1h11l1 -1h9l1 1h1l1 1h21l1 -1h30l1 1h5l1 -1h2l1 -1h2l1 -1l1 -2l1 -1l1 -1l1 -1l1 -1l1 -2l1 -1l1 -2l1 -1l1 -2h3l1 -1h1" stroke="#ff80ff"/>
<path d="M20.5 536.5h4l1 -1h1l1 -1h8l1 -2l1 -3l1 -7l1 -6h10l1 1h2l1 1h1l1 -1h5l1 1h7l1 1h3l1 -1h13l1 1h9l1 1h1l1 2h1l1 1h18l1 -1h7l1 -1h4l1 -1h4l1 -1h2l1 -1h4l1 -1h1l1 8l1 8l1 3l1 2h8l1 -9l1 -7l1 -7h4l1 1h4l1 -1h2l1 1h6l1 1h4l1 -1h19l1 1h7l1 -1h21l1 1h1l1 1h28l1 -1h3l1 -1h8l1 1h5l1 -1h3l1 11l1 1l1 2h3l1 1h27l1 1h5l1 1h12l1 -1l1 1h10l1 -1h8l1 1h1l1 -1h12l1 1h22l1 1h2l1 1h2l1 -7l1 -7l1 -3l1 -4h12l1 -1h2l1 -1h16l1 18l1 7h1l1 1h1l1 -1h4l1 -1h18l1 1h6l1 1h7l1 -1h37l1 1l1 1h8l1 -1h3l1 -1h1l1 -1h4l1 -1h4l1 -1h1l1 -1l1 -1h1l1 -1h5" stroke="#80ffff"/>
<path d="M20.5 525.5h13l1 -2l1 -1l1 -5l1 -5l1 -19h3l1 -1h4l1 1h7l1 1h12l1 -1h4l1 2h7l1 -1h6l1 1h1l1 -1h5l1 1h1l1 1h2l1 1l1 1h15l1 -1h1l1 1h7l1 -1l1 -1h1l1 -1h3l1 -1h1l1 -1h2l1 -1h6l1 1l1 16l1 15l1 1l1 1h8l1 -13l1 -10l1 -9h5l1 -1h12l1 1h15l1 1h1l1 1l1 1h6l1 -1h4l1 1h4l1 -1l1 -1h1l1 1l1 1l1 -1h7l1 -1h13l1 -1h1l1 1l1 1l1 -1h6l1 -1h3l1 -1h5l1 -1l1 1h2l1 1h3l1 -1h3l1 -1h1l1 -1h1l1 -1h1l1 -1l1 -1h6l1 14l1 6l1 7h4l1 -1h3l1 -1h8l1 1h4l1 1h18l1 -1h25l1 1h1l1 1h2l1 1h5l1 1h6l1 1h11l1 1h1l1 1h1l1 1h2l1 -1l1 -3l1 -2h1l1 2h1l1 1l1 -1h1l1 -1l1 -1l1 -12l1 -13l1 -1l1 -2h4l1 1h3l1 1h16l1 -1h6l1 24l1 14l1 1l1 1h15l1 -1h4l1 1h2l1 -1h42l1 1h2l1 -1h7l1 -1h14l1 -1h2l1 -1h2l1 -1h2l1 -2h1l1 -2l1 -1l1 -1l1 -2l1 -2l1 -3l1 -1h1l1 -1h3" stroke="#00c0c0"/>
<path d="M20.5 528.5h1l1 1h12l1 -1l1 -5l1 -4l1 -15l1 -2h11l1 -1h20l1 1h4l1 1h1l1 -1h16l1 1h1l1 1h2l1 1h9l1 1h5l1 1h7l1 -1h2l1 -1h2l1 -1l1 -1h3l1 -1h2l1 -1h5l1 -1h2l1 13l1 13l1 1l1 2h7l1 1l1 -12l1 -8l1 -8h16l1 1h10l1 -1h7l1 1h27l1 1h26l1 -2h2l1 1h12l1 -2h6l1 1h1l1 -1h3l1 -1h1l1 -1h6l1 13l1 5l1 4h4l1 1l1 -1h2l1 -1h23l1 1l1 1h11l1 -1l1 -1h3l1 1h13l1 1h1l1 -1h3l1 1h5l1 1h10l1 1h1l1 1h13l1 1h1l1 -1l1 -2l1 1l1 1h1l1 1h1l1 -1h1l1 -2l1 -10l1 -11l1 -2l1 -3h1l1 -1l1 1h19l1 -1h7l1 -1h1l1 22l1 12h1l1 1h7l1 1l1 1h4l1 -1h5l1 -1h8l1 1h11l1 -1h2l1 1h19l1 -1h14l1 1l1 -1h10l1 1h4l1 -1h2l1 -1l1 1l1 -1l1 -1l1 -1l1 -1l1 -1l1 -1l1 -2l1 -1l1 -1l1 -1h1l1 -1l1 -1h2" stroke="#c08040"/>
<path d="M20.5 529.5h14l1 -1l1 -5l1 -5l1 -15l1 -3h1l1 1h11l1 1h5l1 1h3l1 1h14l1 -1l1 1h9l1 -1h3l1 1h3l1 1h1l1 1h2l1 1h7l1 1h16l1 -1h3l1 -1h2l1 -1h3l1 -1h1l1 -1l1 -1h5l1 1l1 12l1 13l1 2l1 1h8l1 -13l1 -8l1 -8h5l1 1h5l1 -1h2l1 1h2l1 -1h1l1 -1h13l1 1h2l1 1l1 1h4l1 1h15l1 -1l1 1h4l1 -1l1 -1h15l1 -1h16l1 -1h13l1 -1h5l1 -1h6l1 -1h2l1 13l1 4l1 5h12l1 1h1l1 1h11l1 -1h3l1 -1h7l1 1l1 -1h15l1 1h1l1 1l1 1h10l1 1h2l1 -1h1l1 1h3l1 1h3l1 1h2l1 -1h10l1 -1h1l1 1h2l1 1h3l1 -2l1 -2l1 1l1 1l1 1h2l1 -1h2l1 -11l1 -10l1 -2l1 -2h8l1 -1h2l1 -1h19l1 -1l1 22l1 12l1 1h20l1 1h14l1 1h26l1 -1l1 -1h15l1 1h13l1 -1l1 -1h1l1 -1h3l1 -1l1 -1h1l1 -1l1 -1l1 -1l1 -2l1 -1l1 -1l1 -1l1 -2h2l1 1l1 -1h1" stroke="#00ff00"/>
<path d="M37.5 510.5l1 -24h13l1 1h2l1 1h3l1 1h37l1 1h1l1 1h1l1 1h25l1 -1h2l1 -1h3l1 -1h1l1 -1h1l1 -1h1l1 -1h7l1 14" stroke="#ff0000"/>
<path d="M36.5 524.5l1 -18l1 -18h14l1 1h4l1 1h19l1 1h18l1 1h1l1 1h1l1 1h25l1 -1h2l1 -1h3l1 -1h1l1 -1h1l1 -1h1l1 -1h3l1 1h3l1 12l1 12h4l1 1h6l1 -12l1 -12h15l1 -1h6l1 1h6l1 1h1l1 1h1l1 1h48l1 -1h10l1 -1h8l1 -1h7l1 -1h4l1 -1h2l1 -1h1l1 -1h1l1 -1h1l1 -1h2l1 8l1 8l1 3l1 3h64l1 1h2l1 1l1 2l1 1h1l1 1h1l1 1h1l1 1h3l1 1h4l1 1h11l1 1h8l1 -5l1 -5h3l1 3l1 4l1 -1h1l1 -1l1 -12l1 -11l1 -1l1 -2h25l1 -1h6l1 17l1 18l1 2l1 1h3l1 1h4l1 -1l1 -1l1 1l1 1l1 1l1 1h1l1 -1l1 -1h2l1 -1h4l1 1l1 1l1 1l1 1h6l1 -1h9l1 -1h4l1 -1h4l1 1h4l1 1h24l1 -1h4l1 -1h4l1 -1h2l1 -1l1 -1l1 -1h1l1 -1l1 -1l1 -1l1 -2l1 -3l1 -2l1 -2l1 -1l1 -1h5" stroke="#000000"/>
<path d="M162.5 528.5h9l1 1h12l1 1h10l1 1h11l1 1h14l1 -1h21l1 -1h20l1 -1h8l1 -1h10l1 -1h4" stroke="#ff0000"/>
<path d="M293.5 506.5h63l1 1h1" stroke="#ff00ff"/>
<path d="M410.5 520.5l1 -1l1 -1h1l1 -1l1 -1h7l1 1h9l1 -1h4l1 -1h3l1 -1h2" stroke="#ff8000"/>
<path d="M410.5 522.5h2l1 -1h4l1 -1h8l1 1h6l1 -1h2l1 -1h2l1 -1h2l1 -1h1" stroke="#808080"/>
<path d="M410.5 526.5l1 -1h1l1 -1h1l1 -1h1l1 1h3l1 1h2l1 1h6l1 -1h6l1 -1h3l1 -1h2" stroke="#ff0000"/>
<path d="M446.5 524.5h12l1 1h15l1 1h7l1 -1h4l1 -1h22l1 1h12l1 -1h7l1 -1h4l1 -1h3l1 -1h2l1 -1h1l1 -1l1 -1l1 -1h1l1 -1l1 -1l1 -1l1 -1l1 -1l1 -2l1 -1h1l1 -1h2" stroke="#ff0000"/>
<path d="M446.5 538.5h6l1 1h10l1 1h38l1 1h4l1 1h27l1 1h5l1 -1h4l1 -1h1l1 -1h1l1 -1l1 -1" stroke="#c0ff00"/>
<path d="M150.5 541.5h9" stroke="#c0ff00"/>
<rect x="20" y="507" width="544" height="1" fill="#000000"/>
<rect x="20" y="513" width="544" height="1" fill="#000000"/>
<rect x="20" y="528" width="544" height="1" fill="#000000"/>
</g>
<g id="plot3" fill="none" stroke-width="1">
<path d="M20.5 581.5h6l1 -1l1 4l1 5l1 16l1 1h1l1 1l1 1l1 1h1l1 1h1l1 1h20l1 1h12l1 1h8l1 1h11l1 1h15l1 -1h16l1 -1h18l1 -1l1 -1l1 -2l1 -1l1 -1l1 -1h1l1 1h5l1 1h1l1 1l1 1l1 1h1l1 1h3l1 1h3l1 1h1l1 -1h7l1 1h12l1 -1h1l1 1h7l1 -1l1 -1l1 -1h20l1 1h23l1 1h11l1 1l1 -1h7l1 -1h18l1 -6l1 -5h2l1 -1h3l1 -4l1 -5l1 -7l1 -6h14l1 1h6l1 1h1l1 1l1 -1l1 1h7l1 1h1l1 -1h2l1 1h12l1 -1h1l1 -1h1l1 -1l1 -5l1 -5h1l1 1h4l1 1h1l1 1l1 1h2l1 1h3l1 2h1l1 1l1 1h1l1 1l1 1l1 1l1 1l1 1l1 1l1 1h11l1 -1h2l1 -1l1 11l1 12h19l1 1h18l1 -1l1 -1h1l1 -1h4l1 -1h1l1 -5l1 -4l1 -9l1 -8h1l1 1h2l1 1h1l1 1h2l1 1h2l1 1h3l1 1h2l1 1h24l1 1h17l1 -1h3l1 -1h1l1 1h1l1 1l1 1h3l1 1h1l1 1h8l1 -1h1l1 -1h1l1 -1h1l1 -1l1 -6l1 -7l1 -7l1 -7h7" stroke="#ff0000"/>
<path d="M20.5 582.5h2l1 -1h4l1 5l1 4l1 16l1 1h1l1 1l1 1l1 1h1l1 1h16l1 1h14l1 -1h3l1 1h8l1 1h11l1 1h5l1 1h16l1 -1h15l1 1h12l1 -1l1 -1l1 -2l1 -1l1 -1l1 -1h7l1 1l1 1h1l1 1h2l1 1h3l1 1h3l1 1h8l1 1l1 1h14l1 1h7l1 -1l1 -1l1 -1h1l1 -1h5l1 1h13l1 1h62l1 -5l1 -6h3l1 -1h2l1 -5l1 -4l1 -6l1 -7h19l1 -1h1l1 1h1l1 1h1l1 1h12l1 1h10l1 1h1l1 -1h1l1 -1h1l1 -1l1 -5l1 -5h2l1 1h2l1 1h3l1 1h2l1 1h3l1 1h1l1 1l1 1h1l1 1l1 1l1 1l1 1l1 1l1 1l1 1h15l1 12l1 11h18l1 1h19l1 -1l1 -1h2l1 -1h2l1 -1h2l1 -4l1 -5l1 -9l1 -9h1l1 1h2l1 1h1l1 1h2l1 1h2l1 1h3l1 1h2l1 1h27l1 -1h10l1 1h3l1 -1h3l1 -1h1l1 1h1l1 1h1l1 1l1 1h1l1 1h10l1 -1h1l1 -1h1l1 -1h1l1 -1l1 -7l1 -6l1 -7l1 -7h7" stroke="#ff0000"/>
<path d="M20.5 583.5h7l1 4l1 5l1 16l1 1h1l1 1l1 1h1l1 1l1 1h29l1 -1h6l1 1h4l1 1h3l1 1h11l1 1h42l1 1h7l1 -1l1 -2l1 -1l1 -1l1 -1l1 -1h2l1 -1h6l1 1l1 1h2l1 1h2l1 1l1 1h4l1 1l1 1h9l1 1h13l1 1h1l1 -1h2l1 -1h1l1 -1l1 -1l1 -1h7l1 1h8l1 -1l1 1h5l1 -1h1l1 1h38l1 1h1l1 1h17l1 -6l1 -5h2l1 -1h3l1 -5l1 -4l1 -7l1 -6h22l1 1l1 1h1l1 1h14l1 1h10l1 -1h1l1 -1h1l1 -2l1 -5l1 -5h2l1 1l1 -1h2l1 1h2l1 1h3l1 1h2l1 1h1l1 1l1 1h1l1 1l1 1l1 1l1 1l1 1l1 1l1 1h15l1 11l1 12h5l1 1h16l1 1h15l1 -1l1 -1h1l1 -1h3l1 -1h2l1 -5l1 -4l1 -9l1 -9h1l1 1h2l1 1h2l1 1h1l1 1h2l1 1h3l1 1h2l1 2h42l1 -1h2l1 -1h2l1 1h1l1 1h1l1 1l1 1h1l1 1h10l1 -1h1l1 -1h1l1 -1l1 -1h1l1 -7l1 -6l1 -7l1 -7h7" stroke="#ff0000"/>
<path d="M20.5 575.5h6l1 -1l1 2l1 2l1 4l1 5l1 4l1 5l1 4l1 4l1 2l1 2h10l1 1h23l1 -1h1l1 -1h8l1 1h2l1 1l1 1l1 -1h7l1 -1h14l1 1h26l1 1h1l1 -1h10l1 -1l1 -1h1l1 1h5l1 1l1 1h3l1 -1h16l1 1h1l1 1l1 1h20l1 -1l1 -1l1 -1h33l1 -1h9l1 -1h1l1 -1h2l1 -1h5l1 1l1 1h21l1 1h6l1 -1l1 -1l1 -2l1 -2h1l1 -1l1 -1h1l1 -5l1 -5l1 -9l1 -9h22l1 1h1l1 1h27l1 -1h1l1 -1h1l1 -5l1 -5h1l1 1h1l1 -1l1 1h1l1 1h3l1 1h4l1 1h3l1 1h1l1 1h1l1 2l1 3l1 1l1 1l1 1h7l1 1h3l1 -1h3l1 12l1 11h7l1 2l1 2h29l1 -1h3l1 -1h2l1 1l1 -1h1l1 -5l1 -6l1 -20l1 -1l1 -1h1l1 1h2l1 1h3l1 1h2l1 1h3l1 1h2l1 1h3l1 1h5l1 -1l1 -1h9l1 1h25l1 -1h4l1 1l1 1h1l1 1h6l1 1h10l1 -3l1 -3l1 -11l1 -11h8" stroke="#000000"/>
<path d="M20.5 576.5h7l1 2l1 2l1 5l1 4l1 4l1 4l1 4l1 3l1 2l1 2h35l1 -1h1l1 -1h7l1 1h1l1 1h1l1 1h26l1 1h14l1 1h4l1 -1h16l1 -1l1 -1h8l1 1h19l1 1h1l1 1h6l1 1h15l1 -1l1 -1l1 -1h44l1 -1h1l1 -1h7l1 1l1 1h16l1 -1h4l1 1h6l1 -1l1 -1l1 -2l1 -2h1l1 -1h1l1 -1l1 -5l1 -5l1 -9l1 -9h10l1 -1h10l1 1h1l1 1h29l1 -1h2l1 -5l1 -5l1 1l1 -1h1l1 1h1l1 1h2l1 1h4l1 1h4l1 1h1l1 1h2l1 3l1 2l1 1l1 1l1 1h6l1 1h8l1 12l1 11h7l1 2l1 2h8l1 1h4l1 -1h16l1 -1h1l1 1h1l1 -1h3l1 -1l1 -5l1 -6l1 -21l1 -1l1 -1l1 1h2l1 1h2l1 1h3l1 1h2l1 1h3l1 1h1l1 1h4l1 1h6l1 -1h4l1 1h2l1 -1h4l1 1h23l1 -1h1l1 1h1l1 1h3l1 1h11l1 -1h2l1 -3l1 -4l1 -11l1 -11h8" stroke="#000000"/>
<path d="M20.5 578.5h6l1 -1l1 2l1 2l1 5l1 4l1 4l1 4l1 4l1 4l1 2l1 2h30l1 1h3l1 -1h1l1 -1h8l1 1h1l1 2h2l1 1h19l1 -1h23l1 1h6l1 -1h11l1 -1l1 -1h7l1 1l1 1h1l1 -1h2l1 1h1l1 1h13l1 1h1l1 1h10l1 -1h2l1 -1h7l1 -1l1 -1l1 -1h11l1 1l1 1l1 -1h29l1 -1h1l1 -1h8l1 1l1 1h14l1 -1h13l1 -1l1 -1l1 -2l1 -2h1l1 -1l1 -1h1l1 -5l1 -5l1 -9l1 -9h22l1 1h1l1 1h27l1 -1h1l1 -1h1l1 -5l1 -5h1l1 1h2l1 1h1l1 1h3l1 1h4l1 1h3l1 1h1l1 1h1l1 3l1 2l1 1l1 1l1 1h15l1 11l1 12h7l1 2l1 2h3l1 1h25l1 -1l1 -1h1l1 -1h4l1 -1h1l1 -5l1 -6l1 -20l1 -1l1 -1h1l1 1h1l1 1h1l1 1l1 -1h1l1 1l1 1h1l1 1h1l1 1h1l1 1h2l1 1h21l1 1h19l1 -1h4l1 -2h5l1 1h1l1 1l1 1h4l1 1h11l1 -4l1 -3l1 -11l1 -10h8" stroke="#000000"/>
<rect x="20" y="583" width="544" height="1" fill="#000000"/>
<rect x="20" y="590" width="544" height="1" fill="#000000"/>
<rect x="20" y="606" width="544" height="1" fill="#000000"/>
</g>
<g id="plot4" fill="none" stroke-width="1">
<path d="M20.5 689.5l1 -1h2l1 -1l1 -1h1l1 -1l1 -1h1l1 -1l1 -1l1 -1l1 -1h1l1 -1l1 -4l1 -4l1 -19h2l1 1h2l1 1h4l1 1h15l1 1h6l1 1l1 1h12l1 -1h6l1 1h4l1 1h2l1 -1h9l1 1h10l1 -1h1l1 -1h1l1 -1h2l1 -1h1l1 -1h2l1 1h1l1 -1h7l1 -1h3l1 11l1 12l1 6l1 6h8l1 -12l1 -9l1 -9h4l1 -2h7l1 -1h6l1 -1h9l1 1h1l1 1h1l1 1h1l1 1h13l1 1h6l1 -1h2l1 1h30l1 -1h3l1 -1h3l1 -1h3l1 -1h3l1 -1h3l1 -1h9l1 -1h7l1 10l1 9l1 9l1 9h1l1 -1h2l1 1h11l1 1h1l1 1h1l1 1h3l1 -1h2l1 -1h1l1 1h8l1 1h19l1 1h14l1 2h13l1 -1h1l1 -1h16l1 -1h2l1 -1l1 -1l1 -1l1 -5l1 -5l1 -7l1 -8h17l1 -1h16l1 13l1 13h5l1 1h12l1 1h3l1 1h6l1 1h1l1 1h7l1 1h8l1 1h14l1 -2l1 -1h18l1 1l1 -1h10l1 1l1 -1h2l1 -1h4l1 -2h1l1 -1l1 -1l1 -2l1 -1l1 -1" stroke="#ff0000"/>
<path d="M20.5 690.5h1l1 -1l1 -1h2l1 -1l1 -1h1l1 -1l1 -1l1 -1h1l1 -1h1l1 -1l1 -4l1 -4l1 -19h2l1 1h2l1 1h4l1 1h15l1 1h9l1 1h9l1 -1h7l1 1h4l1 1h12l1 1h10l1 -1h1l1 -1h1l1 -1l1 -1h1l1 -1h1l1 -1h4l1 -1h11l1 12l1 11l1 6l1 6h8l1 -12l1 -9l1 -9h3l1 -1h8l1 -1h16l1 1h1l1 1h1l1 1h14l1 -1h14l1 -1h1l1 1h22l1 -1h1l1 -1h3l1 -1h3l1 -1h3l1 -1h3l1 -1h3l1 -1h9l1 -1h2l1 1h4l1 10l1 9l1 9l1 9h3l1 1l1 -1h11l1 1h1l1 1h1l1 1h8l1 -1h8l1 1h5l1 1h13l1 1h14l1 1h13l1 -1h1l1 -1h8l1 -1h6l1 1l1 -1h2l1 -1l1 -1h1l1 -4l1 -5l1 -7l1 -8h11l1 -1h4l1 -1l1 1h16l1 13l1 13l1 -1h5l1 1h10l1 1h11l1 1h8l1 1h10l1 1h13l1 -1h4l1 1h6l1 1h2l1 -1h4l1 -1h12l1 -1h1l1 1h1l1 -1h2l1 -1h2l1 -1l1 -1l1 -2l1 -1l1 -1" stroke="#ff0000"/>
<path d="M20.5 691.5l1 -1h1l1 -1h1l1 -1h1l1 -1l1 -2h1l1 -1l1 -1h1l1 -1h1l1 -1l1 -4l1 -4l1 -19h2l1 1h2l1 1l1 1h3l1 1h2l1 -1h15l1 1h16l1 -1h6l1 1h1l1 1h3l1 1h9l1 1h3l1 1l1 -1h7l1 -1h2l1 -1h1l1 -1l1 1h1l1 -1h1l1 -1h3l1 -1h7l1 -1h4l1 11l1 12l1 6l1 6h8l1 -12l1 -9l1 -9h3l1 -1h7l1 -1h17l1 1h1l1 1h2l1 1h5l1 -1h13l1 -1h34l1 -1h3l1 -1h3l1 -1h4l1 -1h3l1 -1h3l1 -1l1 1h6l1 -2h8l1 1l1 8l1 10l1 9l1 9h16l1 1h1l1 1h1l1 1h16l1 1l1 -1l1 1h1l1 1h17l1 1l1 -1h15l1 1h3l1 1h8l1 -1h16l1 -1h1l1 -1h1l1 -1h1l1 -6l1 -4l1 -8l1 -7h5l1 1h7l1 -1h20l1 13l1 13h7l1 1h3l1 -1h17l1 1h10l1 1h8l1 1h3l1 1h1l1 1h6l1 -1h1l1 -1h17l1 -1h12l1 -1h3l1 -1h3l1 -1h2l1 -1l1 -3l1 -1l1 -1l1 -1" stroke="#ff0000"/>
<path d="M20.5 680.5h2l1 -2h3l1 -1l1 1l1 -1l1 -1h2l1 -1h2l1 -5l1 -14l1 -14h1l1 1l1 1h5l1 1h17l1 1h12l1 -1h3l1 1l1 -1h12l1 1h1l1 1h1l1 1h3l1 1h7l1 1h10l1 -1h1l1 -1h1l1 -1l1 -1h1l1 -1h1l1 -1h1l1 -1l1 -1h6l1 -1h5l1 15l1 14l1 4l1 5h3l1 1h4l1 -15l1 -9l1 -8h4l1 -1h4l1 1l1 -1h2l1 -1h14l1 1h1l1 1l1 1h1l1 1h56l1 -1h4l1 -1h4l1 -1h3l1 -1h3l1 -1h2l1 -1h8l1 -1h7l1 13l1 14l1 15h3l1 1h3l1 -2l1 -1h10l1 1h1l1 1h35l1 -1h6l1 1h3l1 1h13l1 -1h6l1 -1h18l1 -1h1l1 -1h1l1 -1l1 -1l1 -1l1 -9l1 -10h34l1 12l1 12h1l1 1h2l1 1h34l1 1h10l1 -1h8l1 1h11l1 -1h1l1 -2h26l1 -1h5l1 -1l1 -2l1 -1l1 -4l1 -4" stroke="#000000"/>
<path d="M20.5 681.5h5l1 -1h1l1 -1l1 -1l1 -1h4l1 -1l1 -5l1 -14l1 -14l1 1l1 1l1 1h1l1 1h17l1 -1l1 -1h10l1 1h4l1 -1h6l1 -1h10l1 1l1 1h1l1 1h1l1 1h7l1 1h14l1 -1h1l1 -1l1 -1h1l1 -1l1 -1h2l1 -1h1l1 -1h10l1 -1h1l1 15l1 14l1 5l1 4l1 1h7l1 -15l1 -8l1 -9h7l1 -1h3l1 -1l1 1h2l1 -1h12l1 1l1 1h1l1 1l1 1h30l1 1h14l1 -1h13l1 -1h2l1 1h1l1 -1h4l1 -1h3l1 -1h2l1 -1h2l1 -1h13l1 -1h1l1 13l1 15l1 14l1 1h6l1 -1l1 -2h10l1 1l1 1h9l1 1l1 -1h28l1 -1h48l1 -1h1l1 -1l1 -1l1 -1l1 -1l1 -9l1 -10h34l1 13l1 13h25l1 -1h1l1 1h9l1 1h52l1 -1h11l1 -1h1l1 -1h1l1 -1l1 -1l1 -2l1 -4l1 -4" stroke="#000000"/>
<path d="M20.5 683.5h2l1 -1h3l1 -1l1 -1l1 -1l1 -1h2l1 -1h2l1 -5l1 -13l1 -14l1 1h2l1 1h3l1 -1l1 1h35l1 -1h2l1 1h4l1 1h4l1 1h1l1 1h1l1 1h3l1 1h7l1 1h10l1 -1h1l1 -1l1 -1l1 -1l1 -1h1l1 -1h3l1 -1h7l1 -1h5l1 15l1 14l1 4l1 5h3l1 1h4l1 -15l1 -9l1 -8h2l1 -1l1 -1h6l1 -1h2l1 -1h10l1 1h3l1 1h2l1 1h1l1 1h12l1 -1h17l1 1h24l1 -1l1 -1h8l1 1l1 -1h3l1 -1h2l1 -1l1 -1h2l1 -1h8l1 -1h7l1 13l1 14l1 15h3l1 1h3l1 -2l1 -1h10l1 1l1 -1l1 1h6l1 1h35l1 1h2l1 1h4l1 -1h1l1 1h28l1 -1h4l1 -1h1l1 -1h1l1 -1l1 -1l1 -1l1 -9l1 -10h23l1 1h10l1 12l1 12h38l1 1h35l1 -1h5l1 -1h7l1 -1h10l1 -1h6l1 -1l1 -2l1 -1l1 -4l1 -4" stroke="#000000"/>
<rect x="20" y="660" width="538" height="1" fill="#000000"/>
<rect x="20" y="667" width="538" height="1" fill="#000000"/>
<rect x="20" y="683" width="538" height="1" fill="#000000"/>
</g>
</svg></body></html>
